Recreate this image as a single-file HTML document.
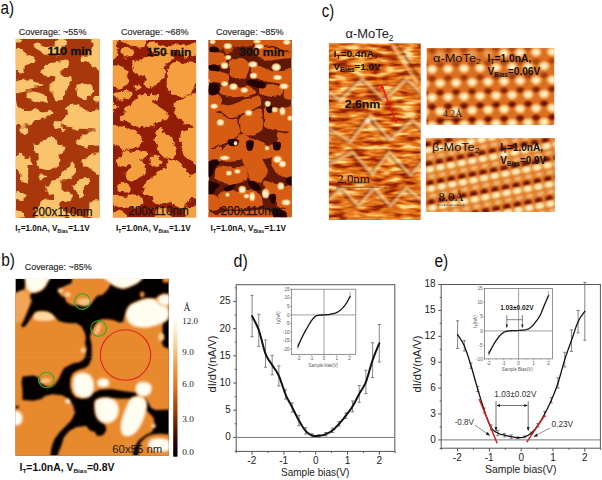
<!DOCTYPE html>
<html><head><meta charset="utf-8"><style>
html,body{margin:0;padding:0;background:#fff;}
body{width:602px;height:480px;overflow:hidden;}
svg{display:block;}
</style></head><body>
<svg width="602" height="480" viewBox="0 0 602 480">
<rect width="602" height="480" fill="#fff"/>
<defs><filter id="bl1" x="-5%" y="-5%" width="110%" height="110%"><feGaussianBlur stdDeviation="0.7"/></filter><filter id="dend" x="-5%" y="-5%" width="110%" height="110%" color-interpolation-filters="sRGB"><feTurbulence type="fractalNoise" baseFrequency="0.17" numOctaves="3" seed="4" result="t"/><feDisplacementMap in="SourceGraphic" in2="t" scale="6.5" xChannelSelector="R" yChannelSelector="G" result="d"/><feGaussianBlur in="d" stdDeviation="0.75"/></filter><filter id="dend1" x="-5%" y="-5%" width="110%" height="110%" color-interpolation-filters="sRGB"><feTurbulence type="fractalNoise" baseFrequency="0.17" numOctaves="3" seed="4" result="t"/><feDisplacementMap in="SourceGraphic" in2="t" scale="6.5" xChannelSelector="R" yChannelSelector="G" result="d"/><feMorphology in="d" operator="erode" radius="0.6" result="e"/><feGaussianBlur in="e" stdDeviation="0.7"/></filter><filter id="dend3" x="-5%" y="-5%" width="110%" height="110%" color-interpolation-filters="sRGB"><feTurbulence type="fractalNoise" baseFrequency="0.12" numOctaves="2" seed="9" result="t"/><feDisplacementMap in="SourceGraphic" in2="t" scale="3.5" xChannelSelector="R" yChannelSelector="G" result="d"/><feGaussianBlur in="d" stdDeviation="0.6"/></filter></defs>
<clipPath id="c1"><rect x="15.6" y="38.8" width="84" height="179.2"/></clipPath>
<g clip-path="url(#c1)"><rect x="15.6" y="38.8" width="84" height="179.2" fill="#A8380C"/>
<g filter="url(#dend1)">
<path d="M15.0 38.0 C16.4 37.2 22.2 37.2 23.4 38.0 C24.7 38.8 23.6 41.8 22.5 42.7 C21.4 43.6 18.1 43.6 16.9 43.6 C15.6 43.6 15.3 43.6 15.0 42.7 C14.7 41.8 13.6 38.8 15.0 38.0Z" fill="#FAC46C" />
<path d="M32.8 46.4 C32.5 45.5 32.3 44.2 33.8 43.6 C35.2 43.0 39.1 42.4 41.2 42.7 C43.4 43.0 45.0 45.0 46.9 45.5 C48.8 46.0 50.2 45.5 52.5 45.5 C54.8 45.5 59.5 43.6 60.9 45.5 C62.3 47.4 62.3 54.9 60.9 56.8 C59.5 58.6 55.2 56.9 52.5 56.8 C49.8 56.6 47.2 56.4 45.0 55.8 C42.8 55.2 40.9 54.1 39.4 53.0 C37.8 51.9 36.7 50.3 35.6 49.2 C34.5 48.2 33.1 47.4 32.8 46.4Z" fill="#FAC46C" />
<path d="M14.1 49.2 C15.2 45.5 18.8 47.1 20.6 47.4 C22.5 47.7 24.1 49.9 25.3 51.1 C26.6 52.4 26.7 54.1 28.1 54.9 C29.5 55.7 32.3 54.9 33.8 55.8 C35.2 56.8 36.4 59.1 36.6 60.5 C36.7 61.9 35.8 63.6 34.7 64.2 C33.6 64.9 31.4 63.6 30.0 64.2 C28.6 64.9 27.2 66.6 26.2 68.0 C25.3 69.4 25.3 71.6 24.4 72.7 C23.4 73.8 21.9 74.7 20.6 74.6 C19.4 74.4 18.0 72.5 16.9 71.8 C15.8 71.0 14.5 73.6 14.1 69.9 C13.6 66.1 13.0 53.0 14.1 49.2Z" fill="#FAC46C" />
<path d="M39.4 69.9 C40.3 68.3 43.1 65.7 45.0 64.2 C46.9 62.8 48.8 62.1 50.6 61.4 C52.5 60.8 54.5 60.3 56.2 60.5 C58.0 60.7 60.2 59.9 60.9 62.4 C61.7 64.9 62.0 72.8 60.9 75.5 C59.8 78.2 56.4 78.0 54.4 78.3 C52.3 78.6 50.6 77.8 48.8 77.4 C46.9 76.9 44.7 76.1 43.1 75.5 C41.6 74.9 40.0 74.6 39.4 73.6 C38.8 72.7 38.4 71.4 39.4 69.9Z" fill="#FAC46C" />
<path d="M14.1 81.1 C15.2 78.6 18.6 78.9 20.6 78.3 C22.7 77.7 24.4 77.4 26.2 77.4 C28.1 77.4 30.0 77.7 31.9 78.3 C33.8 78.9 35.6 80.3 37.5 81.1 C39.4 81.9 42.3 82.1 43.1 83.0 C43.9 83.9 43.4 85.8 42.2 86.8 C40.9 87.7 37.7 88.0 35.6 88.6 C33.6 89.2 31.9 89.9 30.0 90.5 C28.1 91.1 25.9 91.6 24.4 92.4 C22.8 93.2 21.9 94.7 20.6 95.2 C19.4 95.7 18.0 95.5 16.9 95.2 C15.8 94.9 14.5 95.7 14.1 93.3 C13.6 91.0 13.0 83.6 14.1 81.1Z" fill="#FAC46C" />
<path d="M48.8 83.0 C49.7 81.8 52.3 80.8 54.4 80.2 C56.4 79.6 59.8 76.6 60.9 79.2 C62.0 81.9 62.0 93.3 60.9 96.1 C59.8 98.9 56.1 96.8 54.4 96.1 C52.7 95.5 51.6 93.8 50.6 92.4 C49.7 91.0 49.1 89.2 48.8 87.7 C48.4 86.1 47.8 84.2 48.8 83.0Z" fill="#FAC46C" />
<path d="M26.2 92.4 C27.5 91.3 31.6 90.7 33.8 90.5 C35.9 90.3 37.5 90.8 39.4 91.4 C41.2 92.1 43.4 93.2 45.0 94.2 C46.6 95.3 48.3 96.6 48.8 98.0 C49.2 99.4 48.8 101.8 47.8 102.7 C46.9 103.6 45.2 103.6 43.1 103.6 C41.1 103.6 37.8 103.2 35.6 102.7 C33.4 102.2 31.6 101.8 30.0 100.8 C28.4 99.9 26.9 98.5 26.2 97.1 C25.6 95.7 25.0 93.5 26.2 92.4Z" fill="#FAC46C" />
<path d="M14.1 101.8 C14.8 98.3 17.3 102.7 18.8 103.6 C20.2 104.6 20.9 106.4 22.5 107.4 C24.1 108.3 26.2 109.1 28.1 109.2 C30.0 109.4 31.9 108.3 33.8 108.3 C35.6 108.3 37.5 108.9 39.4 109.2 C41.2 109.6 43.1 110.5 45.0 110.2 C46.9 109.9 49.1 107.2 50.6 107.4 C52.2 107.5 54.1 109.6 54.4 111.1 C54.7 112.7 53.8 115.5 52.5 116.8 C51.2 118.0 48.8 118.0 46.9 118.6 C45.0 119.2 43.1 119.9 41.2 120.5 C39.4 121.1 37.5 121.8 35.6 122.4 C33.8 123.0 31.9 123.6 30.0 124.2 C28.1 124.9 26.2 125.8 24.4 126.1 C22.5 126.4 20.5 126.4 18.8 126.1 C17.0 125.8 14.8 128.3 14.1 124.2 C13.3 120.2 13.3 105.2 14.1 101.8Z" fill="#FAC46C" />
<path d="M52.5 122.4 C53.6 121.0 59.5 119.4 60.9 120.5 C62.3 121.6 62.0 127.5 60.9 128.9 C59.8 130.3 55.8 130.0 54.4 128.9 C53.0 127.8 51.4 123.8 52.5 122.4Z" fill="#FAC46C" />
<path d="M54.1 38.0 C56.1 36.6 63.6 37.4 66.2 38.0 C68.9 38.6 69.7 40.5 70.0 41.8 C70.3 43.0 69.4 44.6 68.1 45.5 C66.9 46.4 64.8 47.2 62.5 47.4 C60.2 47.5 55.5 48.0 54.1 46.4 C52.7 44.9 52.0 39.4 54.1 38.0Z" fill="#FAC46C" />
<path d="M90.6 37.1 C92.0 35.7 99.2 31.6 100.9 37.1 C102.7 42.5 102.0 64.6 100.9 69.9 C99.8 75.2 96.1 69.6 94.4 68.9 C92.7 68.3 91.9 67.2 90.6 66.1 C89.4 65.0 88.4 62.8 86.9 62.4 C85.3 61.9 82.8 63.6 81.2 63.3 C79.7 63.0 77.8 61.6 77.5 60.5 C77.2 59.4 78.1 57.7 79.4 56.8 C80.6 55.8 83.4 56.1 85.0 54.9 C86.6 53.6 87.5 50.8 88.8 49.2 C90.0 47.7 92.2 47.5 92.5 45.5 C92.8 43.5 89.2 38.5 90.6 37.1Z" fill="#FAC46C" />
<path d="M54.1 60.5 C55.2 57.8 58.6 59.9 60.6 59.6 C62.7 59.2 64.7 58.5 66.2 58.6 C67.8 58.8 69.5 59.2 70.0 60.5 C70.5 61.8 70.0 64.6 69.1 66.1 C68.1 67.7 65.8 68.6 64.4 69.9 C63.0 71.1 62.3 72.7 60.6 73.6 C58.9 74.6 55.2 77.7 54.1 75.5 C53.0 73.3 53.0 63.2 54.1 60.5Z" fill="#FAC46C" />
<path d="M54.1 79.2 C55.2 75.0 58.6 76.3 60.6 75.5 C62.7 74.7 64.4 74.4 66.2 74.6 C68.1 74.7 70.6 75.3 71.9 76.4 C73.1 77.5 74.1 79.4 73.8 81.1 C73.4 82.8 70.9 84.9 70.0 86.8 C69.1 88.6 69.1 90.5 68.1 92.4 C67.2 94.2 65.6 96.6 64.4 98.0 C63.1 99.4 62.3 100.3 60.6 100.8 C58.9 101.3 55.2 104.4 54.1 100.8 C53.0 97.2 53.0 83.5 54.1 79.2Z" fill="#FAC46C" />
<path d="M75.6 84.9 C76.6 83.2 79.4 82.4 81.2 82.1 C83.1 81.8 85.0 82.4 86.9 83.0 C88.8 83.6 91.2 84.6 92.5 85.8 C93.8 87.1 94.4 88.8 94.4 90.5 C94.4 92.2 93.8 94.6 92.5 96.1 C91.2 97.7 88.8 99.1 86.9 99.9 C85.0 100.7 82.8 101.1 81.2 100.8 C79.7 100.5 78.4 99.4 77.5 98.0 C76.6 96.6 75.9 94.6 75.6 92.4 C75.3 90.2 74.7 86.6 75.6 84.9Z" fill="#FAC46C" />
<path d="M92.5 98.0 C93.6 96.4 99.5 93.3 100.9 94.2 C102.3 95.2 102.0 102.1 100.9 103.6 C99.8 105.2 95.8 104.6 94.4 103.6 C93.0 102.7 91.4 99.6 92.5 98.0Z" fill="#FAC46C" />
<path d="M66.2 105.5 C67.8 104.6 71.2 103.6 73.8 103.6 C76.2 103.6 79.1 104.6 81.2 105.5 C83.4 106.4 85.0 108.5 86.9 109.2 C88.8 110.0 90.2 109.9 92.5 110.2 C94.8 110.5 99.5 108.0 100.9 111.1 C102.3 114.2 105.5 126.0 100.9 128.9 C96.4 131.9 79.5 129.4 73.8 128.9 C68.0 128.5 68.4 127.2 66.2 126.1 C64.1 125.0 61.2 123.9 60.6 122.4 C60.0 120.8 61.6 118.3 62.5 116.8 C63.4 115.2 65.9 114.2 66.2 113.0 C66.6 111.8 64.4 110.5 64.4 109.2 C64.4 108.0 64.7 106.4 66.2 105.5Z" fill="#FAC46C" />
<path d="M18.8 127.1 C20.5 125.8 28.3 126.0 30.0 127.1 C31.7 128.2 30.0 132.1 29.1 133.6 C28.1 135.2 25.9 136.3 24.4 136.4 C22.8 136.6 20.6 136.1 19.7 134.6 C18.8 133.0 17.0 128.3 18.8 127.1Z" fill="#FAC46C" />
<path d="M31.9 143.0 C33.1 142.1 37.2 142.1 39.4 141.1 C41.6 140.2 43.1 138.6 45.0 137.4 C46.9 136.1 49.1 133.3 50.6 133.6 C52.2 133.9 52.7 137.7 54.4 139.2 C56.1 140.8 59.8 138.6 60.9 143.0 C62.0 147.4 62.0 161.1 60.9 165.5 C59.8 169.9 56.4 168.3 54.4 169.2 C52.3 170.2 50.6 171.0 48.8 171.1 C46.9 171.3 45.0 170.5 43.1 170.2 C41.2 169.9 38.8 170.3 37.5 169.2 C36.2 168.2 35.8 165.5 35.6 163.6 C35.5 161.8 37.0 160.2 36.6 158.0 C36.1 155.8 33.6 152.4 32.8 150.5 C32.0 148.6 32.0 148.0 31.9 146.8 C31.7 145.5 30.6 143.9 31.9 143.0Z" fill="#FAC46C" />
<path d="M18.8 152.4 C20.2 151.0 21.2 150.8 22.5 151.4 C23.8 152.1 24.7 155.0 26.2 156.1 C27.8 157.2 30.8 156.8 31.9 158.0 C33.0 159.2 33.1 162.1 32.8 163.6 C32.5 165.2 30.6 165.8 30.0 167.4 C29.4 168.9 29.1 171.1 29.1 173.0 C29.1 174.9 30.2 176.8 30.0 178.6 C29.8 180.5 29.4 183.3 28.1 184.2 C26.9 185.2 23.8 185.2 22.5 184.2 C21.2 183.3 21.2 180.5 20.6 178.6 C20.0 176.8 19.8 174.6 18.8 173.0 C17.7 171.4 14.8 171.4 14.1 169.2 C13.3 167.1 13.3 162.7 14.1 159.9 C14.8 157.1 17.3 153.8 18.8 152.4Z" fill="#FAC46C" />
<path d="M36.6 174.9 C37.5 173.6 41.2 173.0 43.1 173.0 C45.0 173.0 47.2 173.9 47.8 174.9 C48.4 175.8 48.0 177.5 46.9 178.6 C45.8 179.7 42.8 181.1 41.2 181.4 C39.7 181.8 38.3 181.6 37.5 180.5 C36.7 179.4 35.6 176.1 36.6 174.9Z" fill="#FAC46C" />
<path d="M45.0 184.2 C45.9 182.7 48.8 181.4 50.6 180.5 C52.5 179.6 54.5 178.8 56.2 178.6 C58.0 178.5 60.2 177.1 60.9 179.6 C61.7 182.1 62.0 191.0 60.9 193.6 C59.8 196.3 56.4 195.3 54.4 195.5 C52.3 195.7 50.3 195.5 48.8 194.6 C47.2 193.6 45.6 191.6 45.0 189.9 C44.4 188.2 44.1 185.8 45.0 184.2Z" fill="#FAC46C" />
<path d="M14.1 191.8 C15.2 190.0 18.6 189.9 20.6 189.9 C22.7 189.9 25.0 190.8 26.2 191.8 C27.5 192.7 28.1 194.2 28.1 195.5 C28.1 196.8 27.5 198.3 26.2 199.2 C25.0 200.2 22.7 201.0 20.6 201.1 C18.6 201.3 15.2 201.8 14.1 200.2 C13.0 198.6 13.0 193.5 14.1 191.8Z" fill="#FAC46C" />
<path d="M41.2 199.2 C43.1 197.7 46.2 197.4 48.8 197.4 C51.2 197.4 54.2 198.3 56.2 199.2 C58.3 200.2 60.2 199.7 60.9 203.0 C61.7 206.3 64.8 216.3 60.9 218.9 C57.0 221.6 42.0 220.0 37.5 218.9 C33.0 217.8 33.8 214.4 33.8 212.4 C33.8 210.3 36.2 208.9 37.5 206.8 C38.8 204.6 39.4 200.8 41.2 199.2Z" fill="#FAC46C" />
<path d="M14.1 208.6 C15.5 207.2 20.5 209.2 22.5 210.5 C24.5 211.8 25.6 214.7 26.2 216.1 C26.9 217.5 28.3 218.5 26.2 218.9 C24.2 219.4 16.1 220.7 14.1 218.9 C12.0 217.2 12.7 210.0 14.1 208.6Z" fill="#FAC46C" />
<path d="M58.8 127.1 C60.0 126.0 66.9 126.1 68.1 127.1 C69.4 128.0 67.5 131.6 66.2 132.7 C65.0 133.8 61.9 134.6 60.6 133.6 C59.4 132.7 57.5 128.2 58.8 127.1Z" fill="#FAC46C" />
<path d="M71.9 127.1 C73.1 126.3 80.0 126.4 81.2 127.1 C82.5 127.7 80.6 130.0 79.4 130.8 C78.1 131.6 75.0 132.4 73.8 131.8 C72.5 131.1 70.6 127.8 71.9 127.1Z" fill="#FAC46C" />
<path d="M75.6 139.2 C76.2 137.2 79.1 134.9 81.2 133.6 C83.4 132.4 86.2 132.4 88.8 131.8 C91.2 131.1 94.2 130.7 96.2 129.9 C98.3 129.1 100.2 124.6 100.9 127.1 C101.7 129.6 102.0 141.6 100.9 144.9 C99.8 148.2 96.4 146.1 94.4 146.8 C92.3 147.4 90.6 148.5 88.8 148.6 C86.9 148.8 85.0 148.2 83.1 147.7 C81.2 147.2 78.8 147.2 77.5 145.8 C76.2 144.4 75.0 141.3 75.6 139.2Z" fill="#FAC46C" />
<path d="M54.1 144.9 C55.2 141.4 58.8 142.7 60.6 143.0 C62.5 143.3 64.7 145.2 65.3 146.8 C65.9 148.3 65.2 151.1 64.4 152.4 C63.6 153.6 61.6 153.0 60.6 154.2 C59.7 155.5 59.8 158.3 58.8 159.9 C57.7 161.4 54.8 166.1 54.1 163.6 C53.3 161.1 53.0 148.3 54.1 144.9Z" fill="#FAC46C" />
<path d="M79.4 159.9 C80.0 158.3 84.7 157.4 86.9 156.1 C89.1 154.9 90.2 153.0 92.5 152.4 C94.8 151.8 99.5 148.6 100.9 152.4 C102.3 156.1 102.0 171.4 100.9 174.9 C99.8 178.3 96.4 173.9 94.4 173.0 C92.3 172.1 90.6 170.5 88.8 169.2 C86.9 168.0 84.7 167.1 83.1 165.5 C81.6 163.9 78.8 161.4 79.4 159.9Z" fill="#FAC46C" />
<path d="M58.8 174.9 C59.7 173.3 62.8 171.1 64.4 169.2 C65.9 167.4 66.6 165.2 68.1 163.6 C69.7 162.1 72.5 159.9 73.8 159.9 C75.0 159.9 75.0 161.8 75.6 163.6 C76.2 165.5 77.8 168.9 77.5 171.1 C77.2 173.3 75.3 175.2 73.8 176.8 C72.2 178.3 70.0 179.7 68.1 180.5 C66.2 181.3 64.1 181.8 62.5 181.4 C60.9 181.1 59.4 179.7 58.8 178.6 C58.1 177.5 57.8 176.4 58.8 174.9Z" fill="#FAC46C" />
<path d="M71.9 184.2 C72.8 183.0 75.3 181.8 77.5 180.5 C79.7 179.2 82.8 177.1 85.0 176.8 C87.2 176.4 89.7 177.4 90.6 178.6 C91.6 179.9 91.6 182.7 90.6 184.2 C89.7 185.8 85.9 186.1 85.0 188.0 C84.1 189.9 85.6 193.6 85.0 195.5 C84.4 197.4 82.5 198.9 81.2 199.2 C80.0 199.6 78.4 198.6 77.5 197.4 C76.6 196.1 76.6 193.3 75.6 191.8 C74.7 190.2 72.5 189.2 71.9 188.0 C71.2 186.8 70.9 185.5 71.9 184.2Z" fill="#FAC46C" />
<path d="M54.1 186.1 C55.2 183.6 58.6 187.4 60.6 188.0 C62.7 188.6 64.4 189.2 66.2 189.9 C68.1 190.5 70.6 190.8 71.9 191.8 C73.1 192.7 74.1 193.9 73.8 195.5 C73.4 197.1 71.9 199.9 70.0 201.1 C68.1 202.4 65.2 202.7 62.5 203.0 C59.8 203.3 55.5 205.8 54.1 203.0 C52.7 200.2 53.0 188.6 54.1 186.1Z" fill="#FAC46C" />
<path d="M88.8 201.1 C90.0 199.2 92.3 199.2 94.4 199.2 C96.4 199.2 99.8 197.8 100.9 201.1 C102.0 204.4 103.0 216.0 100.9 218.9 C98.9 221.9 91.1 220.3 88.8 218.9 C86.4 217.5 86.9 213.5 86.9 210.5 C86.9 207.5 87.5 203.0 88.8 201.1Z" fill="#FAC46C" />
<path d="M54.1 210.5 C56.1 209.1 63.0 209.9 66.2 210.5 C69.5 211.1 70.0 213.3 73.8 214.2 C77.5 215.2 86.2 215.3 88.8 216.1 C91.2 216.9 94.5 218.5 88.8 218.9 C83.0 219.4 59.8 220.3 54.1 218.9 C48.3 217.5 52.0 211.9 54.1 210.5Z" fill="#FAC46C" />
</g></g>
<clipPath id="c2"><rect x="112.8" y="39.9" width="83.4" height="177.5"/></clipPath>
<g clip-path="url(#c2)"><rect x="112.8" y="39.9" width="83.4" height="177.5" fill="#921C04"/>
<g filter="url(#dend)">
<path d="M111.3 38.3 C112.4 34.9 116.5 37.5 117.6 38.3 C118.8 39.1 118.6 41.7 118.4 43.2 C118.1 44.8 116.4 45.8 116.2 47.5 C116.1 49.1 117.9 51.5 117.6 53.1 C117.4 54.8 115.9 56.4 114.8 57.4 C113.8 58.3 111.9 61.9 111.3 58.8 C110.7 55.6 110.2 41.7 111.3 38.3Z" fill="#F4A040" />
<path d="M123.3 38.3 C126.8 37.7 140.7 37.5 144.5 38.3 C148.2 39.1 146.1 41.8 145.9 43.2 C145.7 44.6 144.2 46.1 143.1 46.8 C141.9 47.5 140.2 47.7 138.8 47.5 C137.4 47.2 136.0 45.8 134.6 45.4 C133.2 44.9 131.8 45.0 130.4 44.6 C128.9 44.3 127.3 43.7 126.1 43.2 C124.9 42.8 123.8 42.6 123.3 41.8 C122.8 41.0 119.8 38.9 123.3 38.3Z" fill="#F4A040" />
<path d="M121.9 48.9 C122.7 47.6 125.6 47.2 127.5 47.5 C129.4 47.7 132.5 48.9 133.2 50.3 C133.9 51.7 132.9 54.8 131.8 55.9 C130.6 57.1 127.6 57.5 126.1 57.4 C124.6 57.2 123.3 56.6 122.6 55.2 C121.9 53.8 121.1 50.2 121.9 48.9Z" fill="#F4A040" />
<path d="M133.2 61.6 C134.1 60.4 137.2 60.9 138.8 60.2 C140.5 59.5 141.4 58.1 143.1 57.4 C144.7 56.6 146.8 56.1 148.7 55.9 C150.6 55.8 152.7 56.9 154.4 56.6 C156.0 56.4 156.9 55.0 158.6 54.5 C160.2 54.1 162.1 53.8 164.2 53.8 C166.4 53.8 169.7 53.9 171.3 54.5 C172.9 55.1 174.4 56.4 174.1 57.4 C173.9 58.3 171.3 59.2 169.9 60.2 C168.5 61.1 166.6 61.8 165.7 63.0 C164.7 64.2 164.2 65.8 164.2 67.2 C164.2 68.7 165.7 69.8 165.7 71.5 C165.7 73.1 164.9 75.5 164.2 77.1 C163.5 78.8 162.6 80.4 161.4 81.4 C160.2 82.3 158.4 82.1 157.2 82.8 C156.0 83.5 155.5 84.7 154.4 85.6 C153.2 86.5 151.5 88.2 150.1 88.4 C148.7 88.7 146.8 87.9 145.9 87.0 C144.9 86.1 144.5 84.2 144.5 82.8 C144.5 81.4 146.4 79.7 145.9 78.5 C145.4 77.4 143.1 76.4 141.7 75.7 C140.2 75.0 138.6 75.0 137.4 74.3 C136.2 73.6 135.3 72.7 134.6 71.5 C133.9 70.3 133.4 68.9 133.2 67.2 C132.9 65.6 132.2 62.8 133.2 61.6Z" fill="#F4A040" />
<path d="M148.7 43.2 C149.8 42.4 152.7 42.3 154.4 42.5 C156.0 42.8 156.2 44.1 158.6 44.6 C160.9 45.2 165.9 45.6 168.5 46.1 C171.1 46.5 173.4 46.3 174.1 47.5 C174.8 48.6 174.1 52.2 172.7 53.1 C171.3 54.1 168.2 53.0 165.7 53.1 C163.1 53.2 159.5 54.1 157.2 53.8 C154.8 53.6 153.1 52.8 151.5 51.7 C150.0 50.6 148.5 48.9 148.0 47.5 C147.5 46.1 147.7 44.1 148.7 43.2Z" fill="#F4A040" />
<path d="M172.7 46.1 C173.2 44.9 176.2 43.5 178.4 43.2 C180.5 43.0 183.3 44.4 185.4 44.6 C187.5 44.9 189.0 44.9 191.1 44.6 C193.2 44.4 197.0 41.4 198.1 43.2 C199.3 45.1 199.3 53.8 198.1 55.9 C197.0 58.1 193.2 55.7 191.1 55.9 C189.0 56.2 187.3 57.6 185.4 57.4 C183.5 57.1 181.4 55.7 179.8 54.5 C178.1 53.4 176.7 51.7 175.5 50.3 C174.4 48.9 172.2 47.2 172.7 46.1Z" fill="#F4A040" />
<path d="M168.5 67.2 C169.3 65.8 171.1 63.9 172.7 63.0 C174.4 62.1 176.5 61.6 178.4 61.6 C180.2 61.6 182.1 63.0 184.0 63.0 C185.9 63.0 187.8 61.6 189.7 61.6 C191.5 61.6 193.9 62.5 195.3 63.0 C196.7 63.5 197.7 61.4 198.1 64.4 C198.6 67.5 198.8 77.6 198.1 81.4 C197.4 85.1 195.1 85.1 193.9 87.0 C192.7 88.9 192.5 91.2 191.1 92.7 C189.7 94.1 187.3 94.8 185.4 95.5 C183.5 96.2 181.7 96.9 179.8 96.9 C177.9 96.9 175.8 96.2 174.1 95.5 C172.5 94.8 171.1 94.1 169.9 92.7 C168.7 91.2 167.8 88.9 167.1 87.0 C166.4 85.1 165.7 83.2 165.7 81.4 C165.7 79.5 166.7 77.4 167.1 75.7 C167.4 74.1 167.5 72.9 167.8 71.5 C168.0 70.1 167.7 68.7 168.5 67.2Z" fill="#F4A040" />
<path d="M111.3 67.2 C112.4 63.9 115.6 65.8 117.6 65.8 C119.6 65.8 121.6 66.3 123.3 67.2 C124.9 68.2 127.1 70.1 127.5 71.5 C128.0 72.9 125.9 74.3 126.1 75.7 C126.4 77.1 128.7 78.5 128.9 79.9 C129.2 81.4 128.5 83.0 127.5 84.2 C126.6 85.4 124.7 86.3 123.3 87.0 C121.9 87.7 120.5 88.4 119.1 88.4 C117.6 88.4 116.1 87.5 114.8 87.0 C113.5 86.5 111.9 88.9 111.3 85.6 C110.7 82.3 110.2 70.5 111.3 67.2Z" fill="#F4A040" />
<path d="M134.6 85.6 C135.1 84.7 137.7 84.1 138.8 84.2 C140.0 84.3 141.4 85.5 141.7 86.3 C141.9 87.1 141.2 88.6 140.2 89.1 C139.3 89.7 136.9 90.1 136.0 89.5 C135.1 89.0 134.1 86.5 134.6 85.6Z" fill="#F4A040" />
<path d="M114.8 91.8 C117.2 90.6 127.9 90.6 130.4 91.8 C132.8 92.9 131.1 97.5 129.6 98.8 C128.2 100.1 124.1 99.5 121.9 99.5 C119.6 99.5 117.4 100.1 116.2 98.8 C115.1 97.5 112.5 92.9 114.8 91.8Z" fill="#F4A040" />
<path d="M111.3 101.6 C112.1 100.5 115.3 103.3 116.2 104.5 C117.2 105.6 117.8 107.5 116.9 108.7 C116.1 109.9 112.2 112.7 111.3 111.5 C110.4 110.4 110.5 102.8 111.3 101.6Z" fill="#F4A040" />
<path d="M119.1 117.2 C119.5 116.0 122.4 114.4 123.3 112.9 C124.2 111.5 123.5 110.1 124.7 108.7 C125.9 107.3 128.9 105.9 130.4 104.5 C131.8 103.1 131.8 101.2 133.2 100.2 C134.6 99.3 137.7 99.8 138.8 98.8 C140.0 97.9 136.9 95.3 140.2 94.6 C143.5 93.9 155.8 93.6 158.6 94.6 C161.4 95.5 158.1 99.1 157.2 100.2 C156.2 101.4 152.9 100.7 152.9 101.6 C152.9 102.6 155.5 104.5 157.2 105.9 C158.8 107.3 160.9 108.7 162.8 110.1 C164.7 111.5 167.8 112.9 168.5 114.4 C169.2 115.8 168.0 117.7 167.1 118.6 C166.1 119.5 164.0 119.5 162.8 120.0 C161.7 120.5 161.4 120.9 160.0 121.4 C158.6 121.9 155.5 121.9 154.4 122.8 C153.2 123.8 154.4 126.2 152.9 127.1 C151.5 127.9 147.8 128.0 145.9 127.8 C144.0 127.5 142.8 125.7 141.7 125.7 C140.5 125.7 140.0 127.8 138.8 127.8 C137.7 127.8 136.0 126.5 134.6 125.7 C133.2 124.8 132.0 123.5 130.4 122.8 C128.7 122.1 126.4 121.9 124.7 121.4 C123.1 120.9 121.4 120.7 120.5 120.0 C119.5 119.3 118.6 118.4 119.1 117.2Z" fill="#F4A040" />
<path d="M172.7 104.5 C173.4 103.1 176.7 102.6 178.4 101.6 C180.0 100.7 181.0 99.9 182.6 98.8 C184.2 97.8 185.7 95.9 188.2 95.3 C190.8 94.7 196.5 90.5 198.1 95.3 C199.8 100.1 199.1 119.2 198.1 124.2 C197.2 129.3 194.1 125.7 192.5 125.7 C190.8 125.7 189.9 124.9 188.2 124.2 C186.6 123.5 184.2 122.4 182.6 121.4 C181.0 120.5 179.5 119.8 178.4 118.6 C177.2 117.4 176.2 115.8 175.5 114.4 C174.8 112.9 174.6 111.8 174.1 110.1 C173.7 108.5 172.0 105.9 172.7 104.5Z" fill="#F4A040" />
<path d="M111.3 128.5 C112.4 125.4 115.4 126.0 117.6 125.7 C119.9 125.3 122.4 125.7 124.7 126.4 C127.1 127.1 129.6 128.8 131.8 129.9 C133.9 130.9 135.8 131.5 137.4 132.7 C139.1 133.9 140.7 135.5 141.7 136.9 C142.6 138.4 143.5 139.8 143.1 141.2 C142.6 142.6 140.5 144.2 138.8 145.4 C137.2 146.6 135.1 147.4 133.2 148.2 C131.3 149.1 129.4 150.1 127.5 150.4 C125.6 150.6 123.3 150.2 121.9 149.7 C120.5 149.1 120.2 147.5 119.1 146.8 C117.9 146.1 116.1 145.9 114.8 145.4 C113.5 144.9 111.9 146.8 111.3 144.0 C110.7 141.2 110.2 131.5 111.3 128.5Z" fill="#F4A040" />
<path d="M154.4 131.3 C154.8 130.2 157.2 129.4 158.6 129.2 C160.0 128.9 161.7 129.1 162.8 129.9 C164.0 130.7 164.5 132.9 165.7 134.1 C166.8 135.3 168.7 135.8 169.9 136.9 C171.1 138.1 171.8 139.5 172.7 141.2 C173.7 142.8 175.1 144.9 175.5 146.8 C176.0 148.7 176.2 150.6 175.5 152.5 C174.8 154.4 173.2 157.2 171.3 158.1 C169.4 159.1 166.1 159.1 164.2 158.1 C162.4 157.2 160.9 154.1 160.0 152.5 C159.1 150.8 159.3 149.7 158.6 148.2 C157.9 146.8 156.5 145.7 155.8 144.0 C155.1 142.4 154.4 139.8 154.4 138.4 C154.4 136.9 155.8 136.7 155.8 135.5 C155.8 134.4 153.9 132.4 154.4 131.3Z" fill="#F4A040" />
<path d="M179.8 132.7 C180.7 131.3 183.5 130.6 185.4 129.9 C187.3 129.2 189.0 128.7 191.1 128.5 C193.2 128.2 197.0 123.5 198.1 128.5 C199.3 133.4 200.2 153.2 198.1 158.1 C196.0 163.1 188.0 159.3 185.4 158.1 C182.8 156.9 183.3 153.2 182.6 151.1 C181.9 148.9 181.7 147.5 181.2 145.4 C180.7 143.3 180.0 140.5 179.8 138.4 C179.5 136.2 178.8 134.1 179.8 132.7Z" fill="#F4A040" />
<path d="M116.2 160.1 C117.2 159.1 120.7 158.6 121.9 157.2 C123.1 155.8 119.1 152.5 123.3 151.6 C127.5 150.6 143.5 150.6 147.3 151.6 C151.1 152.5 147.1 155.8 145.9 157.2 C144.7 158.6 140.5 158.9 140.2 160.1 C140.0 161.2 143.5 162.9 144.5 164.3 C145.4 165.7 145.9 166.9 145.9 168.5 C145.9 170.2 145.4 172.8 144.5 174.2 C143.5 175.6 141.9 176.1 140.2 177.0 C138.6 177.9 136.5 179.2 134.6 179.8 C132.7 180.4 130.4 180.8 128.9 180.5 C127.5 180.3 126.8 179.5 126.1 178.4 C125.4 177.4 124.5 175.6 124.7 174.2 C124.9 172.8 126.4 171.1 127.5 169.9 C128.7 168.8 131.5 168.1 131.8 167.1 C132.0 166.2 130.4 164.4 128.9 164.3 C127.5 164.2 124.9 166.3 123.3 166.4 C121.6 166.5 120.2 165.6 119.1 165.0 C117.9 164.4 116.7 163.7 116.2 162.9 C115.8 162.1 115.3 161.0 116.2 160.1Z" fill="#F4A040" />
<path d="M148.7 157.2 C149.4 155.8 152.5 155.6 154.4 155.8 C156.2 156.1 158.8 157.5 160.0 158.6 C161.2 159.8 161.7 161.7 161.4 162.9 C161.2 164.1 159.8 165.0 158.6 165.7 C157.4 166.4 155.8 167.4 154.4 167.1 C152.9 166.9 151.1 165.9 150.1 164.3 C149.2 162.6 148.0 158.6 148.7 157.2Z" fill="#F4A040" />
<path d="M162.8 151.6 C164.0 150.9 169.7 150.9 171.3 151.6 C172.9 152.3 173.4 154.9 172.7 155.8 C172.0 156.8 168.5 157.2 167.1 157.2 C165.7 157.2 164.9 156.8 164.2 155.8 C163.5 154.9 161.7 152.3 162.8 151.6Z" fill="#F4A040" />
<path d="M184.0 151.6 C185.9 150.4 195.8 149.5 198.1 151.6 C200.5 153.7 199.3 162.6 198.1 164.3 C197.0 165.9 193.0 162.4 191.1 161.5 C189.2 160.5 188.0 160.3 186.8 158.6 C185.7 157.0 182.1 152.8 184.0 151.6Z" fill="#F4A040" />
<path d="M143.1 184.1 C143.5 182.7 146.8 181.2 148.7 179.8 C150.6 178.4 152.7 177.0 154.4 175.6 C156.0 174.2 156.7 172.8 158.6 171.4 C160.5 169.9 164.2 168.8 165.7 167.1 C167.1 165.5 165.9 162.6 167.1 161.5 C168.2 160.3 170.8 160.1 172.7 160.1 C174.6 160.1 176.7 160.5 178.4 161.5 C180.0 162.4 181.4 164.3 182.6 165.7 C183.8 167.1 184.5 168.5 185.4 169.9 C186.4 171.4 187.1 173.2 188.2 174.2 C189.4 175.1 190.8 175.6 192.5 175.6 C194.1 175.6 197.2 170.9 198.1 174.2 C199.1 177.5 199.3 191.6 198.1 195.4 C197.0 199.1 192.7 195.6 191.1 196.8 C189.4 197.9 189.2 200.8 188.2 202.4 C187.3 204.1 186.8 205.7 185.4 206.7 C184.0 207.6 181.7 208.3 179.8 208.1 C177.9 207.8 175.8 206.4 174.1 205.2 C172.5 204.1 171.3 201.2 169.9 201.0 C168.5 200.8 167.3 203.4 165.7 203.8 C164.0 204.3 161.9 204.3 160.0 203.8 C158.1 203.4 155.8 202.2 154.4 201.0 C152.9 199.8 152.9 197.7 151.5 196.8 C150.1 195.8 147.3 196.3 145.9 195.4 C144.5 194.4 143.1 192.3 143.1 191.1 C143.1 189.9 145.9 189.5 145.9 188.3 C145.9 187.1 142.6 185.5 143.1 184.1Z" fill="#F4A040" />
<path d="M117.6 184.1 C118.6 183.1 121.4 182.4 123.3 182.7 C125.2 182.9 127.9 184.3 128.9 185.5 C130.0 186.7 130.1 188.5 129.6 189.7 C129.2 190.9 127.6 192.3 126.1 192.5 C124.6 192.8 121.9 191.8 120.5 191.1 C119.1 190.4 118.1 189.5 117.6 188.3 C117.2 187.1 116.7 185.0 117.6 184.1Z" fill="#F4A040" />
<path d="M111.3 196.8 C112.4 195.4 115.2 195.5 117.6 195.4 C120.1 195.2 123.5 196.1 126.1 196.1 C128.7 196.1 130.8 195.2 133.2 195.4 C135.5 195.5 138.6 195.8 140.2 196.8 C141.9 197.7 143.1 199.6 143.1 201.0 C143.1 202.4 141.7 204.1 140.2 205.2 C138.8 206.4 136.7 207.5 134.6 208.1 C132.5 208.7 129.9 208.9 127.5 208.8 C125.2 208.7 122.4 207.9 120.5 207.4 C118.6 206.8 117.8 205.8 116.2 205.2 C114.7 204.7 112.1 205.2 111.3 203.8 C110.5 202.4 110.2 198.2 111.3 196.8Z" fill="#F4A040" />
<path d="M111.3 212.3 C112.8 210.9 118.0 210.7 120.5 210.9 C122.9 211.1 125.2 212.3 126.1 213.7 C127.1 215.1 128.6 218.4 126.1 219.4 C123.6 220.3 113.8 220.5 111.3 219.4 C108.8 218.2 109.8 213.7 111.3 212.3Z" fill="#F4A040" />
<path d="M185.4 209.5 C186.4 207.4 189.0 206.9 191.1 206.7 C193.2 206.4 197.0 205.9 198.1 208.1 C199.3 210.2 200.2 217.5 198.1 219.4 C196.0 221.2 187.5 221.0 185.4 219.4 C183.3 217.7 184.5 211.6 185.4 209.5Z" fill="#F4A040" />
<path d="M157.2 209.5 C158.4 207.6 160.9 207.8 162.8 208.1 C164.7 208.3 167.1 209.0 168.5 210.9 C169.9 212.8 173.4 218.0 171.3 219.4 C169.2 220.8 158.1 221.0 155.8 219.4 C153.4 217.7 156.0 211.4 157.2 209.5Z" fill="#F4A040" />
</g></g>
<clipPath id="c3"><rect x="208.5" y="40" width="83.2" height="177.2"/></clipPath>
<g clip-path="url(#c3)"><rect x="208.5" y="40" width="83.2" height="177.2" fill="#621804"/>
<g filter="url(#dend3)">
<path d="M205.6 37.6 C208.4 35.5 219.5 36.4 222.5 37.6 C225.6 38.8 224.2 42.5 223.9 44.6 C223.7 46.8 222.5 49.2 221.1 50.3 C219.7 51.4 217.4 50.9 215.5 51.0 C213.6 51.1 211.5 51.1 209.8 51.0 C208.2 50.9 206.3 52.5 205.6 50.3 C204.9 48.1 202.8 39.7 205.6 37.6Z" fill="#B4460C" />
<path d="M223.9 37.6 C229.4 36.4 250.2 36.4 255.0 37.6 C259.8 38.8 254.8 43.2 252.9 44.6 C251.0 46.1 246.7 45.6 243.7 46.1 C240.8 46.5 237.4 46.5 235.2 47.5 C233.1 48.4 232.4 50.5 231.0 51.7 C229.6 52.9 227.9 54.8 226.8 54.5 C225.6 54.3 224.6 51.9 223.9 50.3 C223.2 48.6 222.5 46.8 222.5 44.6 C222.5 42.5 218.5 38.8 223.9 37.6Z" fill="#B4460C" />
<path d="M256.4 37.6 C262.7 36.2 287.0 35.2 293.1 37.6 C299.2 39.9 294.8 49.6 293.1 51.7 C291.5 53.8 286.5 51.2 283.2 50.3 C280.0 49.4 276.7 46.9 273.4 46.1 C270.1 45.2 266.4 45.4 263.5 45.4 C260.5 45.4 256.9 47.4 255.7 46.1 C254.5 44.8 250.2 39.0 256.4 37.6Z" fill="#D65C14" />
<path d="M205.6 53.1 C207.2 51.1 212.6 52.4 215.5 52.4 C218.3 52.4 220.6 52.3 222.5 53.1 C224.4 53.9 226.1 55.7 226.8 57.4 C227.5 59.0 227.5 61.6 226.8 63.0 C226.1 64.4 224.4 65.5 222.5 65.8 C220.6 66.2 218.3 65.4 215.5 65.1 C212.6 64.9 207.2 66.4 205.6 64.4 C203.9 62.4 203.9 55.1 205.6 53.1Z" fill="#D65C14" />
<path d="M231.0 60.2 C232.4 58.9 235.7 58.2 238.1 58.1 C240.4 57.9 243.2 58.3 245.1 59.5 C247.0 60.7 248.9 62.9 249.4 65.1 C249.8 67.4 248.9 70.8 247.9 72.9 C247.0 75.0 245.6 76.8 243.7 77.8 C241.8 78.9 238.8 79.5 236.7 79.2 C234.5 79.0 232.3 77.7 231.0 76.4 C229.7 75.1 229.1 73.2 228.9 71.5 C228.7 69.7 229.2 67.7 229.6 65.8 C229.9 63.9 229.6 61.5 231.0 60.2Z" fill="#D65C14" />
<path d="M205.6 71.5 C207.2 69.7 212.9 70.7 215.5 70.8 C218.1 70.9 219.0 71.6 221.1 72.2 C223.2 72.8 227.0 72.8 228.2 74.3 C229.4 75.8 229.4 79.9 228.2 81.4 C227.0 82.8 223.5 82.7 221.1 82.8 C218.8 82.9 216.6 82.3 214.1 82.1 C211.5 81.8 207.0 83.1 205.6 81.4 C204.2 79.6 203.9 73.2 205.6 71.5Z" fill="#D65C14" />
<path d="M253.6 65.8 C255.7 65.1 260.4 66.5 263.5 67.2 C266.5 67.9 268.7 69.6 272.0 70.1 C275.2 70.5 279.7 70.3 283.2 70.1 C286.8 69.8 291.5 66.8 293.1 68.7 C294.8 70.5 294.8 78.8 293.1 81.4 C291.5 83.9 286.3 83.9 283.2 84.2 C280.2 84.4 277.6 83.2 274.8 82.8 C272.0 82.3 268.7 81.8 266.3 81.4 C263.9 80.9 262.5 80.9 260.7 79.9 C258.8 79.0 256.7 77.1 255.0 75.7 C253.4 74.3 251.0 73.1 250.8 71.5 C250.5 69.8 251.5 66.5 253.6 65.8Z" fill="#D65C14" />
<path d="M253.6 47.5 C255.0 46.2 260.2 46.8 263.5 46.8 C266.8 46.8 270.1 46.6 273.4 47.5 C276.7 48.3 280.0 50.8 283.2 51.7 C286.5 52.6 291.5 52.2 293.1 53.1 C294.8 54.1 294.8 56.4 293.1 57.4 C291.5 58.3 286.5 58.3 283.2 58.8 C280.0 59.2 276.2 59.9 273.4 60.2 C270.5 60.4 268.4 60.7 266.3 60.2 C264.2 59.7 262.5 58.3 260.7 57.4 C258.8 56.4 256.2 56.2 255.0 54.5 C253.8 52.9 252.2 48.8 253.6 47.5Z" fill="#D65C14" />
<path d="M221.1 87.0 C222.5 85.6 226.8 85.6 229.6 85.6 C232.4 85.6 235.2 87.0 238.1 87.0 C240.9 87.0 244.2 85.4 246.5 85.6 C248.9 85.8 250.8 87.2 252.2 88.4 C253.6 89.6 255.5 91.5 255.0 92.7 C254.5 93.8 252.2 94.8 249.4 95.5 C246.5 96.2 241.6 96.7 238.1 96.9 C234.5 97.1 231.0 97.4 228.2 96.9 C225.4 96.4 222.3 95.7 221.1 94.1 C219.9 92.4 219.7 88.4 221.1 87.0Z" fill="#D65C14" />
<path d="M260.7 85.6 C262.3 84.4 266.3 84.2 269.1 84.2 C272.0 84.2 275.2 84.7 277.6 85.6 C280.0 86.5 282.8 88.2 283.2 89.8 C283.7 91.5 282.3 94.3 280.4 95.5 C278.5 96.7 274.8 96.9 272.0 96.9 C269.1 96.9 265.6 96.4 263.5 95.5 C261.4 94.5 259.7 92.9 259.2 91.2 C258.8 89.6 259.0 86.8 260.7 85.6Z" fill="#D65C14" />
<path d="M286.1 85.6 C287.6 84.4 292.0 82.1 293.1 84.2 C294.3 86.3 294.5 95.9 293.1 98.3 C291.7 100.7 286.2 99.5 284.7 98.3 C283.1 97.1 283.7 93.4 284.0 91.2 C284.2 89.1 284.5 86.8 286.1 85.6Z" fill="#D65C14" />
<path d="M205.6 85.6 C206.3 83.8 208.6 83.7 209.8 84.2 C211.0 84.7 212.4 86.8 212.6 88.4 C212.9 90.1 212.4 93.0 211.2 94.1 C210.1 95.1 206.5 96.2 205.6 94.8 C204.6 93.4 204.9 87.4 205.6 85.6Z" fill="#D65C14" />
<path d="M205.6 94.6 C207.7 91.6 215.7 93.4 218.3 94.6 C220.9 95.8 220.9 99.1 221.1 101.6 C221.4 104.2 222.3 108.4 219.7 110.1 C217.1 111.9 207.9 114.8 205.6 112.2 C203.2 109.6 203.5 97.5 205.6 94.6Z" fill="#D65C14" />
<path d="M221.1 104.5 C222.4 103.4 225.4 105.5 228.2 105.2 C231.0 104.8 235.5 103.3 238.1 102.4 C240.7 101.4 241.4 100.4 243.7 99.5 C246.1 98.7 249.6 98.0 252.2 97.4 C254.8 96.8 257.8 94.8 259.2 96.0 C260.7 97.2 261.8 102.2 260.7 104.5 C259.5 106.7 255.0 108.1 252.2 109.4 C249.4 110.7 246.1 111.1 243.7 112.2 C241.4 113.4 240.2 115.5 238.1 116.5 C235.9 117.4 233.1 118.1 231.0 117.9 C228.9 117.7 227.1 116.1 225.4 115.1 C223.6 114.0 221.1 113.3 220.4 111.5 C219.7 109.8 219.8 105.5 221.1 104.5Z" fill="#D65C14" />
<path d="M205.6 113.6 C207.7 107.8 215.0 112.5 218.3 112.9 C221.6 113.4 223.2 115.4 225.4 116.5 C227.5 117.5 229.0 118.9 231.0 119.3 C233.0 119.7 236.1 117.8 237.4 118.6 C238.7 119.4 238.3 122.0 238.8 124.2 C239.2 126.5 240.8 129.8 240.2 132.0 C239.6 134.2 237.2 136.0 235.2 137.7 C233.2 139.3 230.5 140.7 228.2 141.9 C225.8 143.1 223.5 143.8 221.1 144.7 C218.8 145.7 216.6 146.9 214.1 147.5 C211.5 148.1 207.0 153.9 205.6 148.2 C204.2 142.6 203.5 119.5 205.6 113.6Z" fill="#D65C14" />
<path d="M240.2 117.9 C240.8 116.2 241.7 115.5 243.7 114.4 C245.7 113.2 249.5 111.8 252.2 110.8 C254.9 109.9 258.2 107.6 259.9 108.7 C261.7 109.8 262.3 114.1 262.8 117.2 C263.2 120.2 263.1 124.7 262.8 127.1 C262.4 129.4 262.9 129.9 260.7 131.3 C258.4 132.7 252.5 135.4 249.4 135.5 C246.2 135.7 243.1 133.9 241.6 132.0 C240.1 130.1 240.4 126.6 240.2 124.2 C239.9 121.9 239.6 119.5 240.2 117.9Z" fill="#D65C14" />
<path d="M264.9 107.3 C266.4 105.4 270.3 107.1 273.4 107.3 C276.4 107.5 280.0 108.7 283.2 108.7 C286.5 108.7 291.5 103.8 293.1 107.3 C294.8 110.8 294.3 125.9 293.1 129.9 C292.0 133.9 288.7 131.2 286.1 131.3 C283.5 131.4 280.2 130.9 277.6 130.6 C275.0 130.2 272.8 129.9 270.5 129.2 C268.3 128.5 265.2 128.1 264.2 126.4 C263.1 124.6 264.1 121.8 264.2 118.6 C264.3 115.4 263.4 109.2 264.9 107.3Z" fill="#D65C14" />
<path d="M241.6 134.1 C243.9 133.8 247.9 136.0 249.4 137.7 C250.8 139.3 250.2 142.0 250.1 144.0 C249.9 146.0 249.2 147.3 248.7 149.7 C248.1 152.0 249.9 156.7 246.5 158.1 C243.1 159.5 232.4 159.1 228.2 158.1 C223.9 157.2 221.1 154.8 221.1 152.5 C221.1 150.1 225.8 146.1 228.2 144.0 C230.5 141.9 233.0 141.4 235.2 139.8 C237.5 138.1 239.2 134.5 241.6 134.1Z" fill="#D65C14" />
<path d="M250.8 137.7 C252.3 137.2 258.1 140.0 260.7 141.2 C263.2 142.4 263.9 144.1 266.3 144.7 C268.7 145.3 273.1 143.9 274.8 144.7 C276.4 145.5 276.9 147.4 276.2 149.7 C275.5 151.9 275.0 156.7 270.5 158.1 C266.1 159.5 252.8 159.5 249.4 158.1 C245.9 156.7 249.7 152.0 250.1 149.7 C250.4 147.3 251.4 146.0 251.5 144.0 C251.6 142.0 249.2 138.1 250.8 137.7Z" fill="#D65C14" />
<path d="M277.6 132.7 C279.1 131.4 283.5 133.4 286.1 133.4 C288.7 133.4 292.0 128.6 293.1 132.7 C294.3 136.8 295.7 153.9 293.1 158.1 C290.5 162.4 280.4 159.5 277.6 158.1 C274.8 156.7 276.3 152.5 276.2 149.7 C276.1 146.8 276.7 144.0 276.9 141.2 C277.1 138.4 276.1 134.0 277.6 132.7Z" fill="#D65C14" />
<path d="M205.6 149.7 C207.0 148.1 211.5 149.4 214.1 148.9 C216.6 148.5 219.7 145.3 221.1 146.8 C222.5 148.4 225.1 156.2 222.5 158.1 C219.9 160.0 208.4 159.5 205.6 158.1 C202.8 156.7 204.2 151.2 205.6 149.7Z" fill="#D65C14" />
<path d="M205.6 151.6 C211.0 150.1 232.9 150.4 238.1 151.6 C243.2 152.8 237.6 157.0 236.7 158.6 C235.7 160.3 235.0 161.0 232.4 161.5 C229.8 161.9 223.9 161.7 221.1 161.5 C218.3 161.2 218.1 160.2 215.5 160.1 C212.9 159.9 207.2 162.2 205.6 160.8 C203.9 159.4 200.2 153.1 205.6 151.6Z" fill="#D65C14" />
<path d="M219.7 165.7 C222.1 165.2 227.0 166.6 229.6 167.1 C232.2 167.6 232.9 168.8 235.2 168.5 C237.6 168.3 241.6 165.2 243.7 165.7 C245.8 166.2 247.5 169.0 247.9 171.4 C248.4 173.7 247.9 177.9 246.5 179.8 C245.1 181.7 241.4 181.9 239.5 182.7 C237.6 183.4 236.9 183.6 235.2 184.1 C233.6 184.5 231.9 185.9 229.6 185.5 C227.2 185.0 223.5 182.4 221.1 181.2 C218.8 180.1 216.4 180.3 215.5 178.4 C214.5 176.5 214.8 172.1 215.5 169.9 C216.2 167.8 217.4 166.2 219.7 165.7Z" fill="#D65C14" />
<path d="M246.5 151.6 C249.4 150.4 256.7 150.4 259.2 151.6 C261.8 152.8 260.9 156.1 262.1 158.6 C263.2 161.2 265.4 164.8 266.3 167.1 C267.2 169.5 268.2 170.9 267.7 172.8 C267.2 174.7 264.7 176.8 263.5 178.4 C262.3 180.1 262.1 182.2 260.7 182.7 C259.2 183.1 256.9 181.7 255.0 181.2 C253.1 180.8 250.5 181.5 249.4 179.8 C248.2 178.2 248.9 173.9 247.9 171.4 C247.0 168.8 244.7 166.4 243.7 164.3 C242.8 162.2 241.8 160.8 242.3 158.6 C242.8 156.5 243.7 152.8 246.5 151.6Z" fill="#D65C14" />
<path d="M274.8 151.6 C278.5 149.9 290.1 147.6 293.1 151.6 C296.2 155.6 294.3 171.4 293.1 175.6 C292.0 179.8 288.7 177.2 286.1 177.0 C283.5 176.8 279.7 175.6 277.6 174.2 C275.5 172.8 274.5 170.6 273.4 168.5 C272.2 166.4 270.3 164.3 270.5 161.5 C270.8 158.6 271.0 153.2 274.8 151.6Z" fill="#D65C14" />
<path d="M221.1 192.5 C222.5 191.1 224.4 191.6 226.8 191.1 C229.1 190.7 232.7 189.5 235.2 189.7 C237.8 189.9 240.2 192.5 242.3 192.5 C244.4 192.5 245.6 189.7 247.9 189.7 C250.3 189.7 254.3 191.6 256.4 192.5 C258.5 193.5 259.5 193.9 260.7 195.4 C261.8 196.8 263.5 199.1 263.5 201.0 C263.5 202.9 263.0 205.5 260.7 206.7 C258.3 207.8 253.1 207.6 249.4 208.1 C245.6 208.5 241.6 209.2 238.1 209.5 C234.5 209.7 231.0 209.9 228.2 209.5 C225.4 209.0 222.8 208.3 221.1 206.7 C219.5 205.0 218.3 201.9 218.3 199.6 C218.3 197.2 219.7 193.9 221.1 192.5Z" fill="#D65C14" />
<path d="M263.5 181.2 C264.7 180.1 268.7 181.9 272.0 182.7 C275.2 183.4 279.7 184.8 283.2 185.5 C286.8 186.2 291.5 182.9 293.1 186.9 C294.8 190.9 294.5 205.9 293.1 209.5 C291.7 213.0 287.2 208.8 284.7 208.1 C282.1 207.4 279.2 206.7 277.6 205.2 C276.0 203.8 276.2 201.5 274.8 199.6 C273.4 197.7 270.8 195.6 269.1 193.9 C267.5 192.3 265.8 191.8 264.9 189.7 C263.9 187.6 262.3 182.4 263.5 181.2Z" fill="#D65C14" />
<path d="M205.6 195.4 C207.2 193.0 213.1 194.4 215.5 195.4 C217.8 196.3 219.2 198.7 219.7 201.0 C220.2 203.4 220.6 208.1 218.3 209.5 C215.9 210.9 207.7 211.8 205.6 209.5 C203.5 207.1 203.9 197.7 205.6 195.4Z" fill="#D65C14" />
<path d="M221.1 212.3 C223.5 210.9 230.5 211.1 235.2 210.9 C239.9 210.7 244.7 211.1 249.4 210.9 C254.1 210.7 259.7 209.2 263.5 209.5 C267.2 209.7 270.5 210.7 272.0 212.3 C273.4 213.9 280.4 218.2 272.0 219.4 C263.5 220.5 229.6 220.5 221.1 219.4 C212.6 218.2 218.8 213.7 221.1 212.3Z" fill="#D65C14" />
<path d="M277.6 209.5 C279.7 208.1 290.5 209.2 293.1 210.9 C295.7 212.5 295.2 218.0 293.1 219.4 C291.0 220.8 283.0 221.0 280.4 219.4 C277.8 217.7 275.5 210.9 277.6 209.5Z" fill="#D65C14" />
<path d="M205.6 212.3 C207.2 211.4 213.4 212.5 215.5 213.7 C217.6 214.9 219.9 218.4 218.3 219.4 C216.6 220.3 207.7 220.5 205.6 219.4 C203.5 218.2 203.9 213.2 205.6 212.3Z" fill="#D65C14" />
</g>
<g filter="url(#bl1)">
<path d="M209.8 47.5 C210.6 46.6 213.8 46.3 215.5 46.8 C217.1 47.2 219.7 49.4 219.7 50.3 C219.7 51.2 217.0 51.8 215.5 52.0 C213.9 52.2 211.5 52.5 210.5 51.7 C209.6 51.0 209.0 48.3 209.8 47.5Z" fill="#220400" />
<path d="M208.4 65.8 C209.6 65.1 213.6 64.2 215.5 64.4 C217.4 64.7 219.2 66.1 219.7 67.2 C220.2 68.4 219.7 71.0 218.3 71.5 C216.9 71.9 212.9 70.5 211.2 70.1 C209.6 69.6 208.9 69.4 208.4 68.7 C207.9 67.9 207.2 66.5 208.4 65.8Z" fill="#220400" />
<path d="M209.8 84.2 C211.0 82.5 213.8 82.3 215.5 82.8 C217.1 83.2 219.2 85.4 219.7 87.0 C220.2 88.7 219.5 91.2 218.3 92.7 C217.1 94.1 214.3 95.5 212.6 95.5 C211.0 95.5 208.9 94.5 208.4 92.7 C207.9 90.8 208.6 85.8 209.8 84.2Z" fill="#220400" />
<path d="M246.5 81.4 C247.0 80.4 249.8 79.9 252.2 79.9 C254.5 79.9 258.3 80.7 260.7 81.4 C263.0 82.1 265.8 83.0 266.3 84.2 C266.8 85.4 265.4 87.9 263.5 88.4 C261.6 88.9 257.4 87.5 255.0 87.0 C252.7 86.5 250.8 86.5 249.4 85.6 C247.9 84.7 246.1 82.3 246.5 81.4Z" fill="#220400" />
<path d="M246.5 141.2 C247.6 139.8 252.7 139.8 253.6 141.2 C254.5 142.6 253.2 148.2 252.2 149.7 C251.1 151.1 248.2 151.1 247.2 149.7 C246.3 148.2 245.5 142.6 246.5 141.2Z" fill="#220400" />
<path d="M273.4 142.6 C274.4 141.4 279.4 141.4 280.4 142.6 C281.5 143.8 280.8 148.5 279.7 149.7 C278.7 150.8 275.1 150.8 274.1 149.7 C273.0 148.5 272.3 143.8 273.4 142.6Z" fill="#220400" />
<path d="M228.2 139.8 C229.6 138.8 236.5 138.8 238.1 139.8 C239.6 140.7 238.8 144.5 237.4 145.4 C235.9 146.4 231.1 146.4 229.6 145.4 C228.1 144.5 226.8 140.7 228.2 139.8Z" fill="#220400" />
<path d="M266.3 104.5 C267.1 103.5 271.1 104.5 272.0 105.9 C272.8 107.3 272.1 112.0 271.2 112.9 C270.4 113.9 267.8 112.9 267.0 111.5 C266.2 110.1 265.5 105.4 266.3 104.5Z" fill="#220400" />
<path d="M208.4 161.5 C209.9 161.2 213.6 159.8 215.5 160.1 C217.4 160.3 219.7 161.7 219.7 162.9 C219.7 164.1 216.6 165.2 215.5 167.1 C214.3 169.0 213.6 172.5 212.6 174.2 C211.7 175.8 210.9 177.0 209.8 177.0 C208.8 177.0 206.9 176.8 206.3 174.2 C205.7 171.6 205.9 163.6 206.3 161.5 C206.6 159.4 206.9 161.7 208.4 161.5Z" fill="#220400" />
<path d="M206.3 181.2 C207.8 179.6 213.2 181.9 215.5 182.7 C217.7 183.4 219.7 184.3 219.7 185.5 C219.7 186.7 216.6 188.3 215.5 189.7 C214.3 191.1 214.2 193.5 212.6 193.9 C211.1 194.4 207.4 194.7 206.3 192.5 C205.2 190.4 204.8 182.9 206.3 181.2Z" fill="#220400" />
<path d="M223.9 188.3 C224.6 187.4 227.7 186.2 229.6 185.5 C231.5 184.8 234.5 183.6 235.2 184.1 C235.9 184.5 234.8 187.1 233.8 188.3 C232.9 189.5 231.0 190.7 229.6 191.1 C228.2 191.6 226.3 191.6 225.4 191.1 C224.4 190.7 223.2 189.2 223.9 188.3Z" fill="#220400" />
<path d="M247.9 181.2 C248.7 180.5 251.7 180.5 253.6 181.2 C255.5 181.9 258.1 184.1 259.2 185.5 C260.4 186.9 261.1 188.8 260.7 189.7 C260.2 190.7 257.8 191.4 256.4 191.1 C255.0 190.9 253.4 189.2 252.2 188.3 C251.0 187.4 250.1 186.7 249.4 185.5 C248.7 184.3 247.2 181.9 247.9 181.2Z" fill="#220400" />
<path d="M286.1 178.4 C287.0 177.2 292.0 175.8 293.1 177.0 C294.3 178.2 294.1 184.3 293.1 185.5 C292.2 186.7 288.7 185.2 287.5 184.1 C286.3 182.9 285.1 179.6 286.1 178.4Z" fill="#220400" />
<path d="M269.1 195.4 C269.8 194.2 273.6 193.2 274.8 193.9 C276.0 194.7 276.4 197.9 276.2 199.6 C276.0 201.2 274.3 203.6 273.4 203.8 C272.4 204.1 271.2 202.4 270.5 201.0 C269.8 199.6 268.4 196.5 269.1 195.4Z" fill="#220400" />
<path d="M273.4 209.5 C274.3 207.8 278.3 209.0 280.4 209.5 C282.5 209.9 285.1 210.7 286.1 212.3 C287.0 213.9 288.0 218.2 286.1 219.4 C284.2 220.5 276.9 221.0 274.8 219.4 C272.7 217.7 272.4 211.1 273.4 209.5Z" fill="#220400" />
<ellipse cx="212.6" cy="41.8" rx="3.1" ry="2.3" fill="#F2A658"/>
<ellipse cx="212.6" cy="41.8" rx="2.1" ry="1.6" fill="#FFF2CC"/>
<ellipse cx="227.8" cy="46.1" rx="4.3" ry="3.1" fill="#F2A658"/>
<ellipse cx="227.8" cy="46.1" rx="2.9" ry="2.1" fill="#FFF2CC"/>
<ellipse cx="257.1" cy="41.5" rx="3.9" ry="1.9" fill="#F2A658"/>
<ellipse cx="257.1" cy="41.5" rx="2.6" ry="1.3" fill="#FFF2CC"/>
<ellipse cx="259.2" cy="46.4" rx="4.7" ry="2.7" fill="#F2A658"/>
<ellipse cx="259.2" cy="46.4" rx="3.2" ry="1.9" fill="#FFF2CC"/>
<ellipse cx="286.8" cy="42.2" rx="3.9" ry="2.7" fill="#F2A658"/>
<ellipse cx="286.8" cy="42.2" rx="2.6" ry="1.9" fill="#FFF2CC"/>
<ellipse cx="228.2" cy="57.4" rx="3.1" ry="2.3" fill="#F2A658"/>
<ellipse cx="228.2" cy="57.4" rx="2.1" ry="1.6" fill="#FFF2CC"/>
<ellipse cx="224.6" cy="65.5" rx="3.9" ry="3.5" fill="#F2A658"/>
<ellipse cx="224.6" cy="65.5" rx="2.6" ry="2.4" fill="#FFF2CC"/>
<ellipse cx="252.9" cy="64.4" rx="4.7" ry="3.1" fill="#F2A658"/>
<ellipse cx="252.9" cy="64.4" rx="3.2" ry="2.1" fill="#FFF2CC"/>
<ellipse cx="276.2" cy="67.2" rx="4.7" ry="3.9" fill="#F2A658"/>
<ellipse cx="276.2" cy="67.2" rx="3.2" ry="2.6" fill="#FFF2CC"/>
<ellipse cx="253.6" cy="75.7" rx="3.9" ry="3.1" fill="#F2A658"/>
<ellipse cx="253.6" cy="75.7" rx="2.6" ry="2.1" fill="#FFF2CC"/>
<ellipse cx="277.6" cy="77.5" rx="4.7" ry="2.7" fill="#F2A658"/>
<ellipse cx="277.6" cy="77.5" rx="3.2" ry="1.9" fill="#FFF2CC"/>
<ellipse cx="224.6" cy="83.8" rx="3.9" ry="2.7" fill="#F2A658"/>
<ellipse cx="224.6" cy="83.8" rx="2.6" ry="1.9" fill="#FFF2CC"/>
<ellipse cx="233.5" cy="86.7" rx="4.3" ry="3.5" fill="#F2A658"/>
<ellipse cx="233.5" cy="86.7" rx="2.9" ry="2.4" fill="#FFF2CC"/>
<ellipse cx="244.4" cy="90.2" rx="3.9" ry="2.7" fill="#F2A658"/>
<ellipse cx="244.4" cy="90.2" rx="2.6" ry="1.9" fill="#FFF2CC"/>
<ellipse cx="284.0" cy="86.3" rx="4.7" ry="3.1" fill="#F2A658"/>
<ellipse cx="284.0" cy="86.3" rx="3.2" ry="2.1" fill="#FFF2CC"/>
<ellipse cx="207.7" cy="80.7" rx="2.3" ry="2.3" fill="#F2A658"/>
<ellipse cx="207.7" cy="80.7" rx="1.6" ry="1.6" fill="#FFF2CC"/>
<ellipse cx="214.1" cy="106.2" rx="3.9" ry="2.7" fill="#F2A658"/>
<ellipse cx="214.1" cy="106.2" rx="2.6" ry="1.9" fill="#FFF2CC"/>
<ellipse cx="220.4" cy="122.5" rx="3.9" ry="3.5" fill="#F2A658"/>
<ellipse cx="220.4" cy="122.5" rx="2.6" ry="2.4" fill="#FFF2CC"/>
<ellipse cx="248.7" cy="112.9" rx="3.9" ry="3.1" fill="#F2A658"/>
<ellipse cx="248.7" cy="112.9" rx="2.6" ry="2.1" fill="#FFF2CC"/>
<ellipse cx="267.7" cy="103.8" rx="3.1" ry="3.1" fill="#F2A658"/>
<ellipse cx="267.7" cy="103.8" rx="2.1" ry="2.1" fill="#FFF2CC"/>
<ellipse cx="274.8" cy="109.8" rx="3.1" ry="2.7" fill="#F2A658"/>
<ellipse cx="274.8" cy="109.8" rx="2.1" ry="1.9" fill="#FFF2CC"/>
<ellipse cx="282.5" cy="111.2" rx="3.1" ry="4.3" fill="#F2A658"/>
<ellipse cx="282.5" cy="111.2" rx="2.1" ry="2.9" fill="#FFF2CC"/>
<ellipse cx="290.3" cy="118.2" rx="3.1" ry="2.7" fill="#F2A658"/>
<ellipse cx="290.3" cy="118.2" rx="2.1" ry="1.9" fill="#FFF2CC"/>
<ellipse cx="235.6" cy="143.3" rx="1.9" ry="2.3" fill="#F2A658"/>
<ellipse cx="235.6" cy="143.3" rx="1.3" ry="1.6" fill="#FFF2CC"/>
<ellipse cx="267.0" cy="148.2" rx="2.3" ry="2.3" fill="#F2A658"/>
<ellipse cx="267.0" cy="148.2" rx="1.6" ry="1.6" fill="#FFF2CC"/>
<ellipse cx="224.6" cy="157.9" rx="5.4" ry="2.3" fill="#F2A658"/>
<ellipse cx="224.6" cy="157.9" rx="3.7" ry="1.6" fill="#FFF2CC"/>
<ellipse cx="228.9" cy="173.1" rx="3.1" ry="2.7" fill="#F2A658"/>
<ellipse cx="228.9" cy="173.1" rx="2.1" ry="1.9" fill="#FFF2CC"/>
<ellipse cx="237.4" cy="171.4" rx="3.1" ry="2.3" fill="#F2A658"/>
<ellipse cx="237.4" cy="171.4" rx="2.1" ry="1.6" fill="#FFF2CC"/>
<ellipse cx="277.6" cy="159.4" rx="4.7" ry="3.9" fill="#F2A658"/>
<ellipse cx="277.6" cy="159.4" rx="3.2" ry="2.6" fill="#FFF2CC"/>
<ellipse cx="282.5" cy="163.9" rx="3.9" ry="3.5" fill="#F2A658"/>
<ellipse cx="282.5" cy="163.9" rx="2.6" ry="2.4" fill="#FFF2CC"/>
<ellipse cx="242.3" cy="189.7" rx="3.9" ry="3.9" fill="#F2A658"/>
<ellipse cx="242.3" cy="189.7" rx="2.6" ry="2.6" fill="#FFF2CC"/>
<ellipse cx="227.5" cy="194.7" rx="2.3" ry="2.3" fill="#F2A658"/>
<ellipse cx="227.5" cy="194.7" rx="1.6" ry="1.6" fill="#FFF2CC"/>
<ellipse cx="246.5" cy="196.1" rx="3.1" ry="2.3" fill="#F2A658"/>
<ellipse cx="246.5" cy="196.1" rx="2.1" ry="1.6" fill="#FFF2CC"/>
<ellipse cx="252.2" cy="196.8" rx="3.1" ry="4.7" fill="#F2A658"/>
<ellipse cx="252.2" cy="196.8" rx="2.1" ry="3.2" fill="#FFF2CC"/>
<ellipse cx="265.6" cy="193.6" rx="3.9" ry="5.0" fill="#F2A658"/>
<ellipse cx="265.6" cy="193.6" rx="2.6" ry="3.4" fill="#FFF2CC"/>
<ellipse cx="280.8" cy="186.2" rx="3.5" ry="3.9" fill="#F2A658"/>
<ellipse cx="280.8" cy="186.2" rx="2.4" ry="2.6" fill="#FFF2CC"/>
<ellipse cx="286.1" cy="202.4" rx="4.7" ry="3.1" fill="#F2A658"/>
<ellipse cx="286.1" cy="202.4" rx="3.2" ry="2.1" fill="#FFF2CC"/>
</g></g>
<defs><filter id="blb" x="-5%" y="-5%" width="110%" height="110%"><feGaussianBlur stdDeviation="0.8"/></filter></defs>
<clipPath id="cb_"><rect x="15.4" y="278.8" width="153.4" height="176.89999999999998"/></clipPath>
<g clip-path="url(#cb_)"><rect x="15.4" y="278.8" width="153.4" height="176.89999999999998" fill="#050000"/>
<g filter="url(#blb)">
<path d="M10.0 293.5 L19.0 292.5 L23.5 290.0 L25.8 285.0 L26.3 276.0 L48.1 276.0 L46.2 283.0 L41.9 288.6 L36.2 291.8 L31.2 293.0 L30.0 296.8 L31.9 301.1 L30.0 305.5 L27.5 311.8 L24.4 319.2 L21.2 325.5 L22.5 327.4 L25.6 326.1 L29.4 320.5 L32.5 315.5 L35.0 312.0 L39.4 310.8 L46.2 311.1 L51.9 313.6 L55.6 317.4 L58.8 321.1 L65.0 322.8 L70.0 323.3 L76.7 323.3 L81.7 326.7 L85.0 333.3 L85.8 338.3 L85.0 343.3 L86.7 348.3 L85.8 355.0 L83.3 360.0 L78.3 362.5 L73.3 363.3 L68.0 366.0 L64.1 368.0 L61.9 371.8 L59.0 378.3 L55.3 384.0 L51.6 386.8 L46.9 386.8 L42.2 384.0 L38.4 377.4 L33.8 375.5 L22.5 376.4 L21.5 383.0 L22.5 390.0 L22.5 396.0 L22.5 399.9 L33.8 400.8 L41.2 399.0 L45.0 396.1 L52.5 394.2 L61.9 395.2 L69.4 399.0 L73.1 405.5 L75.0 413.0 L71.2 420.5 L67.5 424.2 L60.0 431.8 L54.4 439.2 L51.6 446.8 L49.7 460.0 L10.0 460.0Z" fill="#E8892E" />
<path d="M72.0 276.0 L71.9 283.0 L65.0 286.0 L60.0 288.6 L58.8 292.4 L61.2 296.0 L65.0 297.4 L66.2 301.8 L70.0 304.2 L75.0 306.0 L77.5 305.0 L85.0 306.8 L90.0 305.0 L93.8 300.0 L97.5 295.5 L102.4 294.9 L108.0 289.2 L110.8 283.6 L106.1 276.0Z" fill="#E8892E" />
<path d="M91.6 331.2 L94.2 326.0 L97.3 321.9 L101.5 319.3 L107.7 319.3 L114.0 320.3 L119.2 322.4 L123.0 322.0 L124.5 316.0 L127.0 309.0 L131.0 304.0 L138.0 300.5 L147.4 297.8 L155.5 298.5 L158.0 296.0 L163.0 293.5 L172.0 294.0 L172.0 306.0 L166.0 310.0 L164.0 316.0 L163.5 320.0 L162.5 326.7 L162.7 333.3 L161.0 340.0 L163.5 346.7 L172.0 350.0 L172.0 409.5 L155.5 410.0 L151.0 407.7 L147.5 401.0 L144.0 395.5 L137.0 393.0 L131.0 392.0 L122.5 391.0 L111.2 389.0 L99.8 389.8 L93.3 393.0 L88.0 397.5 L81.0 398.5 L75.0 397.0 L71.5 392.0 L70.0 385.0 L70.5 378.0 L73.0 373.0 L78.0 370.0 L85.0 368.0 L89.0 365.0 L91.7 358.3 L91.7 345.0 L90.0 336.7Z" fill="#E8892E" />
<path d="M56.0 460.0 L59.0 451.0 L61.0 446.8 L63.8 437.4 L69.4 430.8 L76.9 427.0 L86.2 426.1 L90.0 430.4 L94.9 432.0 L97.3 436.1 L103.0 435.3 L106.3 430.4 L105.5 425.6 L101.4 422.3 L96.5 417.4 L94.9 409.3 L96.5 402.8 L99.8 399.5 L106.3 397.9 L112.8 397.9 L120.9 398.7 L128.0 398.5 L135.0 398.0 L140.0 398.5 L143.7 399.5 L145.3 409.3 L153.4 417.4 L155.0 425.5 L151.8 432.0 L145.3 435.3 L138.8 440.2 L133.9 448.3 L132.5 460.0Z" fill="#E8892E" />
<path d="M137.1 460.0 L140.6 442.4 L145.8 437.2 L151.0 434.7 L159.6 433.8 L172.0 434.7 L172.0 460.0Z" fill="#E8892E" />
<path d="M162.7 276.0 L172.0 276.0 L172.0 282.5 L163.0 282.5Z" fill="#E8892E" />
<ellipse cx="142.2" cy="294.6" rx="2.3" ry="3" fill="#E8892E" />
<path d="M15.0 293.0 L22.0 290.0 L27.0 292.0 L30.0 297.0 L29.0 305.0 L26.0 312.0 L23.0 318.0 L20.0 322.0 L15.0 323.0Z" fill="#F2A455" />
<path d="M35.0 313.5 C36.0 312.3 38.0 312.1 40.0 311.8 C42.0 311.6 45.0 311.6 47.0 312.0 C49.0 312.4 50.7 313.4 52.0 314.5 C53.3 315.6 55.3 317.5 55.0 318.5 C54.7 319.5 52.5 320.2 50.0 320.5 C47.5 320.8 42.7 320.8 40.0 320.5 C37.3 320.2 34.8 320.2 34.0 319.0 C33.2 317.8 34.0 314.7 35.0 313.5Z" fill="#FFD9A0" />
<ellipse cx="60.5" cy="290.5" rx="2.8" ry="2.5" fill="#FBC888" />
<ellipse cx="67.5" cy="294.5" rx="3" ry="2.5" fill="#FBC888" />
<path d="M78.0 300.0 C78.8 299.0 82.0 298.6 84.0 298.5 C86.0 298.4 88.8 298.8 90.0 299.5 C91.2 300.2 91.7 302.0 91.0 303.0 C90.3 304.0 88.0 305.2 86.0 305.5 C84.0 305.8 80.3 305.4 79.0 304.5 C77.7 303.6 77.2 301.0 78.0 300.0Z" fill="#F9C080" />
<path d="M25.9 274.8 C30.0 273.7 45.8 273.8 49.4 275.1 C53.1 276.4 48.8 280.4 47.8 282.7 C46.8 285.1 45.2 287.7 43.3 289.3 C41.4 291.0 38.7 292.2 36.6 292.8 C34.5 293.4 32.4 293.3 30.8 292.9 C29.2 292.6 28.1 291.6 27.2 290.5 C26.3 289.3 25.6 287.4 25.2 285.9 C24.8 284.4 24.9 283.3 25.0 281.5 C25.1 279.6 21.9 275.9 25.9 274.8Z" fill="#F7B870" /><path d="M27.0 276.0 C30.6 275.0 44.9 274.8 48.1 276.0 C51.3 277.2 47.3 280.9 46.2 283.0 C45.2 285.1 43.6 287.2 41.9 288.6 C40.2 290.0 38.0 290.7 36.2 291.2 C34.5 291.7 32.8 291.8 31.5 291.5 C30.2 291.2 29.3 290.5 28.5 289.5 C27.7 288.5 27.1 287.0 26.8 285.8 C26.5 284.5 26.5 283.6 26.5 282.0 C26.5 280.4 23.4 277.0 27.0 276.0Z" fill="#FFFDF0" />
<path d="M103.7 275.5 C109.2 274.5 135.4 274.4 141.4 275.5 C147.4 276.5 141.2 279.9 139.6 281.7 C138.0 283.5 134.7 285.0 131.9 286.2 C129.2 287.4 125.9 289.0 123.0 289.0 C120.0 289.0 116.5 287.4 114.0 286.2 C111.6 285.0 110.0 283.5 108.3 281.7 C106.6 279.9 98.2 276.5 103.7 275.5Z" fill="#F7B870" /><path d="M105.2 276.0 C110.2 275.0 134.4 275.0 139.9 276.0 C145.4 277.0 139.6 280.2 138.0 281.8 C136.4 283.3 133.0 284.6 130.5 285.5 C128.0 286.4 125.5 287.4 123.0 287.4 C120.5 287.4 117.7 286.4 115.5 285.5 C113.3 284.6 111.6 283.3 109.9 281.8 C108.2 280.2 100.2 277.0 105.2 276.0Z" fill="#FFFDF0" />
<path d="M125.2 313.6 C125.6 311.4 127.1 307.5 129.0 305.5 C131.0 303.4 133.9 302.4 137.0 301.2 C140.0 299.9 144.3 298.3 147.4 298.0 C150.5 297.7 153.6 298.2 155.7 299.1 C157.8 300.0 158.0 302.2 159.8 303.2 C161.7 304.3 165.0 304.1 166.7 305.5 C168.3 306.9 169.3 309.4 169.6 311.6 C169.9 313.8 169.6 316.8 168.7 318.7 C167.7 320.6 165.9 321.6 163.8 322.9 C161.6 324.2 158.9 325.3 155.8 326.2 C152.7 327.1 148.7 328.2 145.3 328.3 C141.8 328.5 137.7 327.7 135.0 327.0 C132.3 326.2 130.6 325.2 129.1 323.8 C127.6 322.4 126.8 320.4 126.1 318.7 C125.5 317.0 124.7 315.8 125.2 313.6Z" fill="#F7B870" /><path d="M126.8 313.6 C127.2 311.6 128.6 308.0 130.5 306.1 C132.4 304.2 135.2 303.5 138.0 302.4 C140.8 301.3 144.6 299.9 147.4 299.6 C150.2 299.3 153.0 299.7 154.9 300.5 C156.8 301.3 156.9 303.3 158.6 304.2 C160.3 305.2 163.6 304.9 165.2 306.1 C166.8 307.4 167.7 309.7 168.0 311.8 C168.3 313.8 168.0 316.6 167.1 318.3 C166.2 320.0 164.4 321.0 162.4 322.1 C160.4 323.2 157.7 324.1 154.9 324.9 C152.1 325.7 148.6 326.6 145.5 326.8 C142.4 326.9 138.6 326.4 136.1 325.8 C133.6 325.2 131.9 324.2 130.5 323.0 C129.1 321.8 128.3 319.9 127.7 318.3 C127.1 316.7 126.3 315.6 126.8 313.6Z" fill="#FFFDF0" />
<path d="M157.5 297.4 C158.4 296.0 160.6 294.4 162.6 294.0 C164.6 293.5 168.2 293.9 169.7 294.9 C171.2 295.9 171.7 298.3 171.6 300.0 C171.5 301.7 170.8 304.2 169.1 305.2 C167.4 306.2 163.2 306.4 161.3 305.9 C159.4 305.5 158.1 304.0 157.5 302.6 C156.9 301.2 156.7 298.9 157.5 297.4Z" fill="#F7B870" /><path d="M159.0 298.0 C159.7 296.9 161.4 295.8 163.0 295.5 C164.6 295.2 167.3 295.2 168.5 296.0 C169.7 296.8 170.1 298.7 170.0 300.0 C169.9 301.3 169.3 303.2 168.0 304.0 C166.7 304.8 163.5 304.8 162.0 304.5 C160.5 304.2 159.5 303.1 159.0 302.0 C158.5 300.9 158.3 299.1 159.0 298.0Z" fill="#FFFDF0" />
<path d="M72.6 379.2 C73.2 376.6 74.4 374.9 76.1 373.7 C77.9 372.4 80.7 371.8 82.9 371.9 C85.2 372.0 88.0 372.7 89.8 374.1 C91.6 375.5 93.2 377.8 94.0 380.4 C94.7 382.9 95.0 387.0 94.5 389.6 C94.0 392.3 92.6 394.8 90.9 396.3 C89.1 397.8 86.4 398.6 84.1 398.6 C81.7 398.6 78.6 397.9 76.7 396.4 C74.8 394.9 73.2 392.5 72.5 389.6 C71.8 386.8 72.0 381.9 72.6 379.2Z" fill="#F7B870" /><path d="M74.0 380.0 C74.5 377.7 75.5 376.1 77.0 375.0 C78.5 373.9 81.0 373.4 83.0 373.5 C85.0 373.6 87.4 374.2 89.0 375.5 C90.6 376.8 91.8 378.8 92.5 381.0 C93.2 383.2 93.4 386.7 93.0 389.0 C92.6 391.3 91.5 393.7 90.0 395.0 C88.5 396.3 86.1 397.0 84.0 397.0 C81.9 397.0 79.2 396.3 77.5 395.0 C75.8 393.7 74.6 391.5 74.0 389.0 C73.4 386.5 73.5 382.3 74.0 380.0Z" fill="#FFFDF0" />
<path d="M96.4 381.8 C96.6 380.3 98.3 378.8 100.1 378.2 C101.8 377.6 105.4 377.6 107.1 378.3 C108.7 379.0 110.1 381.0 110.1 382.5 C110.1 384.0 108.9 386.5 107.0 387.2 C105.1 388.0 100.7 388.1 98.9 387.2 C97.1 386.3 96.2 383.3 96.4 381.8Z" fill="#F7B870" /><path d="M98.0 382.0 C98.2 380.9 99.7 379.9 101.0 379.5 C102.3 379.1 104.8 379.0 106.0 379.5 C107.2 380.0 108.5 381.4 108.5 382.5 C108.5 383.6 107.4 385.4 106.0 386.0 C104.6 386.6 101.3 386.7 100.0 386.0 C98.7 385.3 97.8 383.1 98.0 382.0Z" fill="#FFFDF0" />
<path d="M135.5 385.3 C136.3 383.9 137.4 382.2 139.3 381.6 C141.1 381.0 144.6 380.9 146.7 381.6 C148.9 382.2 151.2 383.6 152.0 385.4 C152.8 387.3 152.5 390.7 151.5 392.7 C150.4 394.6 147.7 396.5 145.5 397.0 C143.2 397.6 139.8 396.9 138.1 395.8 C136.3 394.7 135.4 392.0 134.9 390.3 C134.5 388.6 134.8 386.8 135.5 385.3Z" fill="#F7B870" /><path d="M137.0 386.0 C137.6 384.8 138.5 383.5 140.0 383.0 C141.5 382.5 144.2 382.5 146.0 383.0 C147.8 383.5 149.8 384.5 150.5 386.0 C151.2 387.5 150.9 390.4 150.0 392.0 C149.1 393.6 146.8 395.1 145.0 395.5 C143.2 395.9 140.4 395.4 139.0 394.5 C137.6 393.6 136.8 391.4 136.5 390.0 C136.2 388.6 136.4 387.2 137.0 386.0Z" fill="#FFFDF0" />
<path d="M95.3 400.1 C96.7 398.4 99.8 397.5 102.6 397.2 C105.3 396.8 109.3 397.0 111.9 398.1 C114.5 399.1 117.0 401.2 118.2 403.6 C119.4 406.1 119.7 410.1 119.3 412.8 C118.8 415.6 117.3 418.3 115.5 420.2 C113.6 422.0 110.6 423.6 108.1 423.9 C105.7 424.2 102.8 423.4 100.7 422.2 C98.7 421.0 97.0 419.1 95.9 416.7 C94.8 414.2 94.2 410.1 94.1 407.3 C94.0 404.6 93.9 401.8 95.3 400.1Z" fill="#F7B870" /><path d="M96.5 401.2 C97.7 399.7 100.5 399.0 103.0 398.7 C105.5 398.4 108.9 398.6 111.2 399.5 C113.5 400.4 115.7 402.2 116.8 404.4 C117.9 406.6 118.1 410.1 117.7 412.5 C117.3 414.9 116.0 417.4 114.4 419.0 C112.8 420.6 110.1 422.0 107.9 422.3 C105.7 422.6 103.2 421.8 101.4 420.7 C99.6 419.6 98.2 418.0 97.3 415.8 C96.3 413.6 95.8 410.1 95.7 407.7 C95.6 405.3 95.3 402.7 96.5 401.2Z" fill="#FFFDF0" />
<path d="M135.1 395.9 C137.5 395.5 141.8 395.8 143.8 397.1 C145.8 398.4 146.9 401.0 147.2 403.9 C147.5 406.9 146.6 411.1 145.6 414.9 C144.5 418.6 142.8 423.0 140.9 426.3 C139.0 429.6 136.4 432.8 134.0 434.6 C131.6 436.4 128.7 437.2 126.5 437.0 C124.3 436.8 122.1 435.7 121.1 433.3 C120.1 430.9 120.0 426.8 120.6 422.8 C121.2 418.7 123.2 412.9 124.7 409.0 C126.2 405.1 127.9 401.6 129.6 399.4 C131.4 397.3 132.8 396.3 135.1 395.9Z" fill="#F7B870" /><path d="M135.0 397.5 C137.2 397.1 141.2 397.2 143.0 398.5 C144.8 399.8 145.8 402.2 146.0 405.0 C146.2 407.8 145.0 411.7 144.0 415.0 C143.0 418.3 141.7 422.0 140.0 425.0 C138.3 428.0 136.2 431.2 134.0 433.0 C131.8 434.8 129.0 435.7 127.0 435.5 C125.0 435.3 122.8 434.2 122.0 432.0 C121.2 429.8 121.3 425.7 122.0 422.0 C122.7 418.3 124.7 413.5 126.0 410.0 C127.3 406.5 128.5 403.1 130.0 401.0 C131.5 398.9 132.8 397.9 135.0 397.5Z" fill="#FFFDF0" />
<path d="M147.4 443.9 C147.8 442.3 148.8 440.2 150.7 439.1 C152.6 438.0 156.2 437.4 158.9 437.4 C161.7 437.4 165.2 438.2 167.3 439.1 C169.4 439.9 170.9 441.0 171.6 442.7 C172.3 444.5 172.8 448.0 171.5 449.6 C170.2 451.2 166.9 452.0 163.8 452.4 C160.7 452.7 155.5 452.3 152.9 451.7 C150.3 451.0 149.4 449.8 148.5 448.5 C147.6 447.2 147.0 445.4 147.4 443.9Z" fill="#F7B870" /><path d="M149.0 444.0 C149.3 442.7 150.3 440.8 152.0 440.0 C153.7 439.2 156.7 439.0 159.0 439.0 C161.3 439.0 164.2 439.3 166.0 440.0 C167.8 440.7 169.3 441.5 170.0 443.0 C170.7 444.5 171.2 447.7 170.0 449.0 C168.8 450.3 165.7 450.8 163.0 451.0 C160.3 451.2 156.2 451.0 154.0 450.5 C151.8 450.0 150.8 449.1 150.0 448.0 C149.2 446.9 148.7 445.3 149.0 444.0Z" fill="#FFFDF0" />
<path d="M10.9 411.8 C12.2 409.3 16.3 409.9 18.3 410.4 C20.3 411.0 22.2 413.1 22.9 415.2 C23.6 417.3 23.2 421.2 22.2 423.0 C21.2 424.8 18.9 425.7 17.0 426.1 C15.1 426.5 11.9 427.6 10.9 425.2 C9.9 422.8 9.7 414.3 10.9 411.8Z" fill="#F7B870" /><path d="M12.0 413.0 C13.0 411.0 16.4 411.5 18.0 412.0 C19.6 412.5 21.0 414.3 21.5 416.0 C22.0 417.7 21.8 420.6 21.0 422.0 C20.2 423.4 18.5 424.2 17.0 424.5 C15.5 424.8 12.8 425.9 12.0 424.0 C11.2 422.1 11.0 415.0 12.0 413.0Z" fill="#FFFDF0" />
<ellipse cx="17" cy="407.3" rx="2.2" ry="2" fill="#100000" />
<ellipse cx="97.8" cy="329" rx="2.3" ry="6" fill="#F9C484" transform="rotate(22 97.8 329)"/>
<ellipse cx="45" cy="381" rx="6" ry="2.2" fill="#F9C484" transform="rotate(-10 45 381)"/>
<ellipse cx="68" cy="401.3" rx="2.3" ry="2.3" fill="#FFF0D0" />
<ellipse cx="83.3" cy="350.3" rx="2.5" ry="2.3" fill="#FCD090" />
<ellipse cx="161.4" cy="337" rx="2.9" ry="4" fill="#FCD090" />
<ellipse cx="153.5" cy="426" rx="2.5" ry="1.9" fill="#FCD090" />
</g>
<line x1="15.4" x2="168.8" y1="357.2" y2="357.2" stroke="#FFC080" stroke-opacity="0.18" stroke-width="0.8"/>
</g>
<circle cx="82.4" cy="301.6" r="7.8" fill="none" stroke="#2EAA2E" stroke-width="1.1"/>
<circle cx="98.6" cy="328.5" r="7.8" fill="none" stroke="#2EAA2E" stroke-width="1.1"/>
<circle cx="46.4" cy="380" r="7.8" fill="none" stroke="#2EAA2E" stroke-width="1.1"/>
<circle cx="125.5" cy="355" r="25.2" fill="none" stroke="#E02020" stroke-width="1.1"/>
<defs><linearGradient id="cb" x1="0" y1="1" x2="0" y2="0"><stop offset="0" stop-color="#000"/><stop offset="0.08" stop-color="#200000"/><stop offset="0.2" stop-color="#601800"/><stop offset="0.35" stop-color="#A84808"/><stop offset="0.5" stop-color="#E07828"/><stop offset="0.65" stop-color="#F0A050"/><stop offset="0.78" stop-color="#F8D098"/><stop offset="0.9" stop-color="#FFF0D8"/><stop offset="1" stop-color="#FFFFFF"/></linearGradient></defs>
<rect x="173.2" y="314.4" width="4.3" height="142.3" fill="url(#cb)"/>
<defs>
<filter id="streak" x="0" y="0" width="100%" height="100%" color-interpolation-filters="sRGB">
<feTurbulence type="fractalNoise" baseFrequency="0.06 0.22" numOctaves="2" seed="11" result="n"/>
<feColorMatrix in="n" type="matrix" values="2.2 0 0 0 -0.6  2.2 0 0 0 -0.6  2.2 0 0 0 -0.6  0 0 0 0 1"/>
<feComponentTransfer>
<feFuncR type="table" tableValues="0.58 0.74 0.85 0.91 0.97 1.0"/>
<feFuncG type="table" tableValues="0.14 0.26 0.40 0.50 0.66 0.86"/>
<feFuncB type="table" tableValues="0.0 0.02 0.08 0.14 0.3 0.55"/>
</feComponentTransfer>
</filter>
<filter id="blc" x="-10%" y="-10%" width="120%" height="120%"><feGaussianBlur stdDeviation="1.0"/></filter>
<radialGradient id="bspot"><stop offset="0" stop-color="#FFFCE8"/><stop offset="0.45" stop-color="#FDE0A0" stop-opacity="0.9"/><stop offset="1" stop-color="#F5B060" stop-opacity="0"/></radialGradient>
<radialGradient id="dspot"><stop offset="0" stop-color="#4A0800"/><stop offset="0.5" stop-color="#8A2000" stop-opacity="0.8"/><stop offset="1" stop-color="#B04010" stop-opacity="0"/></radialGradient>
<clipPath id="cc1"><rect x="328.9" y="43.3" width="91.8" height="176.7"/></clipPath>
<clipPath id="cc2"><rect x="426.5" y="48.1" width="127.9" height="76.8"/></clipPath>
<clipPath id="cc3"><rect x="425.8" y="138.1" width="129.1" height="73.8"/></clipPath>
</defs>
<g clip-path="url(#cc1)"><rect x="328.9" y="43.3" width="91.80000000000001" height="176.7" fill="#D46A20" filter="url(#streak)"/>
<g filter="url(#blc)">
<path d="M326 92 L338 100 L360 79 L382 100 L404 79 L424 98" stroke="#7A1A00" stroke-width="2.8" fill="none" stroke-opacity="0.6"/>
<path d="M328.6 92 L340.6 100 L362.6 79 L384.6 100 L406.6 79 L426.6 98" stroke="#FFE0A0" stroke-width="2.8" fill="none" stroke-opacity="0.7"/>
<path d="M326 128 L348 142 L368 116 L388 140 L410 120 L424 133" stroke="#7A1A00" stroke-width="2.8" fill="none" stroke-opacity="0.6"/>
<path d="M328.6 128 L350.6 142 L370.6 116 L390.6 140 L412.6 120 L426.6 133" stroke="#FFE0A0" stroke-width="2.8" fill="none" stroke-opacity="0.7"/>
<path d="M326 165 L350 152 L370 174 L387 152 L408 175 L424 158" stroke="#7A1A00" stroke-width="2.8" fill="none" stroke-opacity="0.6"/>
<path d="M328.6 165 L352.6 152 L372.6 174 L389.6 152 L410.6 175 L426.6 158" stroke="#FFE0A0" stroke-width="2.8" fill="none" stroke-opacity="0.7"/>
<path d="M326 200 L340 188 L356 206 L372 188 L388 206 L404 188 L424 204" stroke="#7A1A00" stroke-width="2.8" fill="none" stroke-opacity="0.6"/>
<path d="M328.6 200 L342.6 188 L358.6 206 L374.6 188 L390.6 206 L406.6 188 L426.6 204" stroke="#FFE0A0" stroke-width="2.8" fill="none" stroke-opacity="0.7"/>
<path d="M396 43 L421 80" stroke="#7A1E00" stroke-width="2.6" fill="none" stroke-opacity="0.6"/>
<path d="M392 45 L418 84" stroke="#FFE0A0" stroke-width="2.6" fill="none" stroke-opacity="0.7"/>
<circle cx="368" cy="121" r="2.6" fill="#FFF4D8"/>
<circle cx="409" cy="54" r="2" fill="#FFE8C0"/>
</g></g>
<text x="333.5" y="56.6" font-size="9.2" font-weight="bold" fill="#111" font-family='"Liberation Sans", sans-serif' textLength="43.5" lengthAdjust="spacingAndGlyphs">I<tspan font-size="6" dy="2">T</tspan><tspan dy="-2">=0.4nA,</tspan></text>
<text x="333.5" y="70.2" font-size="9.4" font-weight="bold" fill="#111" font-family='"Liberation Sans", sans-serif' textLength="47" lengthAdjust="spacingAndGlyphs">V<tspan font-size="6.6" dy="2.2">Bias</tspan><tspan dy="-2.2">=1.0V</tspan></text>
<text x="344.7" y="108.2" font-size="11.3" font-weight="bold" fill="#111" stroke="#111" stroke-width="0.25" font-family='"Liberation Sans", sans-serif' textLength="35.6" lengthAdjust="spacingAndGlyphs">2.6nm</text>
<text x="337.3" y="183.2" font-size="12.3" fill="#111" font-family='"Liberation Serif", serif' textLength="32.3" lengthAdjust="spacingAndGlyphs">2.0nm</text>
<path d="M337 187.6 H386 M337 186 V189 M349 186.5 V188.6 M361 186.5 V188.6 M373 186.5 V188.6 M386 186 V189" stroke="#333" stroke-width="0.6" fill="none" opacity="0.7"/>
<path d="M381.8 85.5 L396 122.3" stroke="#F01818" stroke-width="1.4"/>
<path d="M381.3 84.1 L380.3 89.6 L384.3 88.1Z M396.3 123.5 L397.3 118 L393.3 119.5Z" fill="#F01818"/>
<text x="345.5" y="38" font-size="12.6" fill="#222" font-family='"Liberation Sans", sans-serif' textLength="48" lengthAdjust="spacingAndGlyphs">α-MoTe<tspan font-size="8.2" dy="2.6">2</tspan></text>
<g clip-path="url(#cc2)"><rect x="426.5" y="48.1" width="127.89999999999998" height="76.80000000000001" fill="#DC6E20"/>
<ellipse cx="432.1" cy="50.7" rx="6" ry="4.6" fill="url(#dspot)" opacity="0.45"/>
<ellipse cx="448.1" cy="50.2" rx="6" ry="4.6" fill="url(#dspot)" opacity="0.45"/>
<ellipse cx="464.1" cy="49.7" rx="6" ry="4.6" fill="url(#dspot)" opacity="0.45"/>
<ellipse cx="480.1" cy="49.2" rx="6" ry="4.6" fill="url(#dspot)" opacity="0.45"/>
<ellipse cx="496.1" cy="48.7" rx="6" ry="4.6" fill="url(#dspot)" opacity="0.45"/>
<ellipse cx="512.1" cy="48.2" rx="6" ry="4.6" fill="url(#dspot)" opacity="0.45"/>
<ellipse cx="528.1" cy="47.7" rx="6" ry="4.6" fill="url(#dspot)" opacity="0.45"/>
<ellipse cx="424.1" cy="65.0" rx="6" ry="4.6" fill="url(#dspot)" opacity="0.45"/>
<ellipse cx="440.1" cy="64.5" rx="6" ry="4.6" fill="url(#dspot)" opacity="0.45"/>
<ellipse cx="456.1" cy="64.0" rx="6" ry="4.6" fill="url(#dspot)" opacity="0.45"/>
<ellipse cx="472.1" cy="63.5" rx="6" ry="4.6" fill="url(#dspot)" opacity="0.45"/>
<ellipse cx="488.1" cy="63.0" rx="6" ry="4.6" fill="url(#dspot)" opacity="0.45"/>
<ellipse cx="504.1" cy="62.5" rx="6" ry="4.6" fill="url(#dspot)" opacity="0.45"/>
<ellipse cx="520.1" cy="62.0" rx="6" ry="4.6" fill="url(#dspot)" opacity="0.45"/>
<ellipse cx="536.1" cy="61.5" rx="6" ry="4.6" fill="url(#dspot)" opacity="0.45"/>
<ellipse cx="552.1" cy="61.0" rx="6" ry="4.6" fill="url(#dspot)" opacity="0.45"/>
<ellipse cx="432.1" cy="78.8" rx="6" ry="4.6" fill="url(#dspot)" opacity="0.61"/>
<ellipse cx="448.1" cy="78.3" rx="6" ry="4.6" fill="url(#dspot)" opacity="0.60"/>
<ellipse cx="464.1" cy="77.8" rx="6" ry="4.6" fill="url(#dspot)" opacity="0.59"/>
<ellipse cx="480.1" cy="77.3" rx="6" ry="4.6" fill="url(#dspot)" opacity="0.58"/>
<ellipse cx="496.1" cy="76.8" rx="6" ry="4.6" fill="url(#dspot)" opacity="0.57"/>
<ellipse cx="512.1" cy="76.3" rx="6" ry="4.6" fill="url(#dspot)" opacity="0.57"/>
<ellipse cx="528.1" cy="75.8" rx="6" ry="4.6" fill="url(#dspot)" opacity="0.56"/>
<ellipse cx="544.1" cy="75.3" rx="6" ry="4.6" fill="url(#dspot)" opacity="0.55"/>
<ellipse cx="560.1" cy="74.8" rx="6" ry="4.6" fill="url(#dspot)" opacity="0.54"/>
<ellipse cx="424.1" cy="93.1" rx="6" ry="4.6" fill="url(#dspot)" opacity="0.87"/>
<ellipse cx="440.1" cy="92.6" rx="6" ry="4.6" fill="url(#dspot)" opacity="0.86"/>
<ellipse cx="456.1" cy="92.1" rx="6" ry="4.6" fill="url(#dspot)" opacity="0.86"/>
<ellipse cx="472.1" cy="91.6" rx="6" ry="4.6" fill="url(#dspot)" opacity="0.85"/>
<ellipse cx="488.1" cy="91.1" rx="6" ry="4.6" fill="url(#dspot)" opacity="0.84"/>
<ellipse cx="504.1" cy="90.6" rx="6" ry="4.6" fill="url(#dspot)" opacity="0.83"/>
<ellipse cx="520.1" cy="90.1" rx="6" ry="4.6" fill="url(#dspot)" opacity="0.82"/>
<ellipse cx="536.1" cy="89.6" rx="6" ry="4.6" fill="url(#dspot)" opacity="0.81"/>
<ellipse cx="552.1" cy="89.1" rx="6" ry="4.6" fill="url(#dspot)" opacity="0.80"/>
<ellipse cx="432.1" cy="106.9" rx="6" ry="4.6" fill="url(#dspot)" opacity="1.00"/>
<ellipse cx="448.1" cy="106.4" rx="6" ry="4.6" fill="url(#dspot)" opacity="1.00"/>
<ellipse cx="464.1" cy="105.9" rx="6" ry="4.6" fill="url(#dspot)" opacity="1.00"/>
<ellipse cx="480.1" cy="105.4" rx="6" ry="4.6" fill="url(#dspot)" opacity="1.00"/>
<ellipse cx="496.1" cy="104.9" rx="6" ry="4.6" fill="url(#dspot)" opacity="1.00"/>
<ellipse cx="512.1" cy="104.4" rx="6" ry="4.6" fill="url(#dspot)" opacity="1.00"/>
<ellipse cx="528.1" cy="103.9" rx="6" ry="4.6" fill="url(#dspot)" opacity="1.00"/>
<ellipse cx="544.1" cy="103.4" rx="6" ry="4.6" fill="url(#dspot)" opacity="1.00"/>
<ellipse cx="560.1" cy="102.9" rx="6" ry="4.6" fill="url(#dspot)" opacity="1.00"/>
<ellipse cx="424.1" cy="121.2" rx="6" ry="4.6" fill="url(#dspot)" opacity="1.00"/>
<ellipse cx="440.1" cy="120.7" rx="6" ry="4.6" fill="url(#dspot)" opacity="1.00"/>
<ellipse cx="456.1" cy="120.2" rx="6" ry="4.6" fill="url(#dspot)" opacity="1.00"/>
<ellipse cx="472.1" cy="119.7" rx="6" ry="4.6" fill="url(#dspot)" opacity="1.00"/>
<ellipse cx="488.1" cy="119.2" rx="6" ry="4.6" fill="url(#dspot)" opacity="1.00"/>
<ellipse cx="504.1" cy="118.7" rx="6" ry="4.6" fill="url(#dspot)" opacity="1.00"/>
<ellipse cx="520.1" cy="118.2" rx="6" ry="4.6" fill="url(#dspot)" opacity="1.00"/>
<ellipse cx="536.1" cy="117.7" rx="6" ry="4.6" fill="url(#dspot)" opacity="1.00"/>
<ellipse cx="552.1" cy="117.2" rx="6" ry="4.6" fill="url(#dspot)" opacity="1.00"/>
<ellipse cx="432.1" cy="135.0" rx="6" ry="4.6" fill="url(#dspot)" opacity="1.00"/>
<ellipse cx="448.1" cy="134.5" rx="6" ry="4.6" fill="url(#dspot)" opacity="1.00"/>
<ellipse cx="464.1" cy="134.0" rx="6" ry="4.6" fill="url(#dspot)" opacity="1.00"/>
<ellipse cx="480.1" cy="133.5" rx="6" ry="4.6" fill="url(#dspot)" opacity="1.00"/>
<ellipse cx="496.1" cy="133.0" rx="6" ry="4.6" fill="url(#dspot)" opacity="1.00"/>
<ellipse cx="512.1" cy="132.5" rx="6" ry="4.6" fill="url(#dspot)" opacity="1.00"/>
<ellipse cx="528.1" cy="132.0" rx="6" ry="4.6" fill="url(#dspot)" opacity="1.00"/>
<ellipse cx="544.1" cy="131.5" rx="6" ry="4.6" fill="url(#dspot)" opacity="1.00"/>
<ellipse cx="560.1" cy="131.0" rx="6" ry="4.6" fill="url(#dspot)" opacity="1.00"/>
<ellipse cx="432.1" cy="41.4" rx="7.2" ry="6.2" fill="url(#bspot)" opacity="0.35"/>
<ellipse cx="448.1" cy="40.9" rx="7.2" ry="6.2" fill="url(#bspot)" opacity="0.35"/>
<ellipse cx="464.1" cy="40.4" rx="7.2" ry="6.2" fill="url(#bspot)" opacity="0.35"/>
<ellipse cx="480.1" cy="39.9" rx="7.2" ry="6.2" fill="url(#bspot)" opacity="0.35"/>
<ellipse cx="496.1" cy="39.4" rx="7.2" ry="6.2" fill="url(#bspot)" opacity="0.35"/>
<ellipse cx="512.1" cy="38.9" rx="7.2" ry="6.2" fill="url(#bspot)" opacity="1"/>
<ellipse cx="528.1" cy="38.4" rx="7.2" ry="6.2" fill="url(#bspot)" opacity="1"/>
<ellipse cx="424.1" cy="55.7" rx="7.2" ry="6.2" fill="url(#bspot)" opacity="0.35"/>
<ellipse cx="440.1" cy="55.2" rx="7.2" ry="6.2" fill="url(#bspot)" opacity="0.35"/>
<ellipse cx="456.1" cy="54.7" rx="7.2" ry="6.2" fill="url(#bspot)" opacity="0.35"/>
<ellipse cx="472.1" cy="54.2" rx="7.2" ry="6.2" fill="url(#bspot)" opacity="0.35"/>
<ellipse cx="488.1" cy="53.7" rx="7.2" ry="6.2" fill="url(#bspot)" opacity="0.35"/>
<ellipse cx="504.1" cy="53.2" rx="7.2" ry="6.2" fill="url(#bspot)" opacity="1"/>
<ellipse cx="520.1" cy="52.7" rx="7.2" ry="6.2" fill="url(#bspot)" opacity="1"/>
<ellipse cx="536.1" cy="52.2" rx="7.2" ry="6.2" fill="url(#bspot)" opacity="1"/>
<ellipse cx="552.1" cy="51.7" rx="7.2" ry="6.2" fill="url(#bspot)" opacity="1"/>
<ellipse cx="432.1" cy="69.5" rx="7.2" ry="6.2" fill="url(#bspot)" opacity="1"/>
<ellipse cx="448.1" cy="69.0" rx="7.2" ry="6.2" fill="url(#bspot)" opacity="1"/>
<ellipse cx="464.1" cy="68.5" rx="7.2" ry="6.2" fill="url(#bspot)" opacity="1"/>
<ellipse cx="480.1" cy="68.0" rx="7.2" ry="6.2" fill="url(#bspot)" opacity="1"/>
<ellipse cx="496.1" cy="67.5" rx="7.2" ry="6.2" fill="url(#bspot)" opacity="1"/>
<ellipse cx="512.1" cy="67.0" rx="7.2" ry="6.2" fill="url(#bspot)" opacity="1"/>
<ellipse cx="528.1" cy="66.5" rx="7.2" ry="6.2" fill="url(#bspot)" opacity="1"/>
<ellipse cx="544.1" cy="66.0" rx="7.2" ry="6.2" fill="url(#bspot)" opacity="1"/>
<ellipse cx="560.1" cy="65.5" rx="7.2" ry="6.2" fill="url(#bspot)" opacity="1"/>
<ellipse cx="424.1" cy="83.8" rx="7.2" ry="6.2" fill="url(#bspot)" opacity="1"/>
<ellipse cx="440.1" cy="83.3" rx="7.2" ry="6.2" fill="url(#bspot)" opacity="1"/>
<ellipse cx="456.1" cy="82.8" rx="7.2" ry="6.2" fill="url(#bspot)" opacity="1"/>
<ellipse cx="472.1" cy="82.3" rx="7.2" ry="6.2" fill="url(#bspot)" opacity="1"/>
<ellipse cx="488.1" cy="81.8" rx="7.2" ry="6.2" fill="url(#bspot)" opacity="1"/>
<ellipse cx="504.1" cy="81.3" rx="7.2" ry="6.2" fill="url(#bspot)" opacity="1"/>
<ellipse cx="520.1" cy="80.8" rx="7.2" ry="6.2" fill="url(#bspot)" opacity="1"/>
<ellipse cx="536.1" cy="80.3" rx="7.2" ry="6.2" fill="url(#bspot)" opacity="1"/>
<ellipse cx="552.1" cy="79.8" rx="7.2" ry="6.2" fill="url(#bspot)" opacity="1"/>
<ellipse cx="432.1" cy="97.6" rx="7.2" ry="6.2" fill="url(#bspot)" opacity="1"/>
<ellipse cx="448.1" cy="97.1" rx="7.2" ry="6.2" fill="url(#bspot)" opacity="1"/>
<ellipse cx="464.1" cy="96.6" rx="7.2" ry="6.2" fill="url(#bspot)" opacity="1"/>
<ellipse cx="480.1" cy="96.1" rx="7.2" ry="6.2" fill="url(#bspot)" opacity="1"/>
<ellipse cx="496.1" cy="95.6" rx="7.2" ry="6.2" fill="url(#bspot)" opacity="1"/>
<ellipse cx="512.1" cy="95.1" rx="7.2" ry="6.2" fill="url(#bspot)" opacity="1"/>
<ellipse cx="528.1" cy="94.6" rx="7.2" ry="6.2" fill="url(#bspot)" opacity="1"/>
<ellipse cx="544.1" cy="94.1" rx="7.2" ry="6.2" fill="url(#bspot)" opacity="1"/>
<ellipse cx="560.1" cy="93.6" rx="7.2" ry="6.2" fill="url(#bspot)" opacity="1"/>
<ellipse cx="424.1" cy="111.9" rx="7.2" ry="6.2" fill="url(#bspot)" opacity="1"/>
<ellipse cx="440.1" cy="111.4" rx="7.2" ry="6.2" fill="url(#bspot)" opacity="1"/>
<ellipse cx="456.1" cy="110.9" rx="7.2" ry="6.2" fill="url(#bspot)" opacity="1"/>
<ellipse cx="472.1" cy="110.4" rx="7.2" ry="6.2" fill="url(#bspot)" opacity="1"/>
<ellipse cx="488.1" cy="109.9" rx="7.2" ry="6.2" fill="url(#bspot)" opacity="1"/>
<ellipse cx="504.1" cy="109.4" rx="7.2" ry="6.2" fill="url(#bspot)" opacity="1"/>
<ellipse cx="520.1" cy="108.9" rx="7.2" ry="6.2" fill="url(#bspot)" opacity="1"/>
<ellipse cx="536.1" cy="108.4" rx="7.2" ry="6.2" fill="url(#bspot)" opacity="1"/>
<ellipse cx="552.1" cy="107.9" rx="7.2" ry="6.2" fill="url(#bspot)" opacity="1"/>
<ellipse cx="432.1" cy="125.7" rx="7.2" ry="6.2" fill="url(#bspot)" opacity="1"/>
<ellipse cx="448.1" cy="125.2" rx="7.2" ry="6.2" fill="url(#bspot)" opacity="1"/>
<ellipse cx="464.1" cy="124.7" rx="7.2" ry="6.2" fill="url(#bspot)" opacity="1"/>
<ellipse cx="480.1" cy="124.2" rx="7.2" ry="6.2" fill="url(#bspot)" opacity="1"/>
<ellipse cx="496.1" cy="123.7" rx="7.2" ry="6.2" fill="url(#bspot)" opacity="1"/>
<ellipse cx="512.1" cy="123.2" rx="7.2" ry="6.2" fill="url(#bspot)" opacity="1"/>
<ellipse cx="528.1" cy="122.7" rx="7.2" ry="6.2" fill="url(#bspot)" opacity="1"/>
<ellipse cx="544.1" cy="122.2" rx="7.2" ry="6.2" fill="url(#bspot)" opacity="1"/>
<ellipse cx="560.1" cy="121.7" rx="7.2" ry="6.2" fill="url(#bspot)" opacity="1"/>
</g>
<text x="433" y="61.6" font-size="11.2" fill="#111" font-family='"Liberation Sans", sans-serif' textLength="47.8" lengthAdjust="spacingAndGlyphs">α-MoTe<tspan font-size="7.5" dy="2.4">2</tspan></text>
<text x="487.6" y="61.5" font-size="10.2" font-weight="bold" fill="#111" font-family='"Liberation Sans", sans-serif' textLength="43.7" lengthAdjust="spacingAndGlyphs">I<tspan font-size="6.4" dy="2">T</tspan><tspan dy="-2">=1.0nA,</tspan></text>
<text x="487.6" y="74.6" font-size="10.2" font-weight="bold" fill="#111" font-family='"Liberation Sans", sans-serif' textLength="52.7" lengthAdjust="spacingAndGlyphs">V<tspan font-size="6.4" dy="2">Bias</tspan><tspan dy="-2">=0.06V</tspan></text>
<text x="443.1" y="116.7" font-size="9.6" fill="#222" font-family='"Liberation Serif", serif' textLength="19.1" lengthAdjust="spacingAndGlyphs">4.2Å</text>
<path d="M443 119.7 H462 M443 118.5 V120.5 M462 118.5 V120.5" stroke="#333" stroke-width="0.6" fill="none" opacity="0.8"/>
<g clip-path="url(#cc3)"><rect x="425.8" y="138.1" width="129.09999999999997" height="73.80000000000001" fill="#E08030"/>
<ellipse cx="427.3" cy="144.4" rx="6" ry="4.2" fill="url(#dspot)" transform="rotate(-11 427.3 144.4)"/>
<ellipse cx="437.9" cy="142.3" rx="6" ry="4.2" fill="url(#dspot)" transform="rotate(-11 437.9 142.3)"/>
<ellipse cx="448.5" cy="140.2" rx="6" ry="4.2" fill="url(#dspot)" transform="rotate(-11 448.5 140.2)"/>
<ellipse cx="418.0" cy="165.8" rx="6" ry="4.2" fill="url(#dspot)" transform="rotate(-11 418.0 165.8)"/>
<ellipse cx="428.6" cy="163.7" rx="6" ry="4.2" fill="url(#dspot)" transform="rotate(-11 428.6 163.7)"/>
<ellipse cx="439.2" cy="161.5" rx="6" ry="4.2" fill="url(#dspot)" transform="rotate(-11 439.2 161.5)"/>
<ellipse cx="449.8" cy="159.4" rx="6" ry="4.2" fill="url(#dspot)" transform="rotate(-11 449.8 159.4)"/>
<ellipse cx="460.4" cy="157.3" rx="6" ry="4.2" fill="url(#dspot)" transform="rotate(-11 460.4 157.3)"/>
<ellipse cx="471.0" cy="155.2" rx="6" ry="4.2" fill="url(#dspot)" transform="rotate(-11 471.0 155.2)"/>
<ellipse cx="481.6" cy="153.1" rx="6" ry="4.2" fill="url(#dspot)" transform="rotate(-11 481.6 153.1)"/>
<ellipse cx="492.2" cy="150.9" rx="6" ry="4.2" fill="url(#dspot)" transform="rotate(-11 492.2 150.9)"/>
<ellipse cx="502.8" cy="148.8" rx="6" ry="4.2" fill="url(#dspot)" transform="rotate(-11 502.8 148.8)"/>
<ellipse cx="513.4" cy="146.7" rx="6" ry="4.2" fill="url(#dspot)" transform="rotate(-11 513.4 146.7)"/>
<ellipse cx="524.0" cy="144.6" rx="6" ry="4.2" fill="url(#dspot)" transform="rotate(-11 524.0 144.6)"/>
<ellipse cx="534.6" cy="142.5" rx="6" ry="4.2" fill="url(#dspot)" transform="rotate(-11 534.6 142.5)"/>
<ellipse cx="545.2" cy="140.3" rx="6" ry="4.2" fill="url(#dspot)" transform="rotate(-11 545.2 140.3)"/>
<ellipse cx="419.3" cy="185.0" rx="6" ry="4.2" fill="url(#dspot)" transform="rotate(-11 419.3 185.0)"/>
<ellipse cx="429.9" cy="182.9" rx="6" ry="4.2" fill="url(#dspot)" transform="rotate(-11 429.9 182.9)"/>
<ellipse cx="440.5" cy="180.8" rx="6" ry="4.2" fill="url(#dspot)" transform="rotate(-11 440.5 180.8)"/>
<ellipse cx="451.1" cy="178.7" rx="6" ry="4.2" fill="url(#dspot)" transform="rotate(-11 451.1 178.7)"/>
<ellipse cx="461.7" cy="176.5" rx="6" ry="4.2" fill="url(#dspot)" transform="rotate(-11 461.7 176.5)"/>
<ellipse cx="472.3" cy="174.4" rx="6" ry="4.2" fill="url(#dspot)" transform="rotate(-11 472.3 174.4)"/>
<ellipse cx="482.9" cy="172.3" rx="6" ry="4.2" fill="url(#dspot)" transform="rotate(-11 482.9 172.3)"/>
<ellipse cx="493.5" cy="170.2" rx="6" ry="4.2" fill="url(#dspot)" transform="rotate(-11 493.5 170.2)"/>
<ellipse cx="504.1" cy="168.1" rx="6" ry="4.2" fill="url(#dspot)" transform="rotate(-11 504.1 168.1)"/>
<ellipse cx="514.7" cy="165.9" rx="6" ry="4.2" fill="url(#dspot)" transform="rotate(-11 514.7 165.9)"/>
<ellipse cx="525.3" cy="163.8" rx="6" ry="4.2" fill="url(#dspot)" transform="rotate(-11 525.3 163.8)"/>
<ellipse cx="535.9" cy="161.7" rx="6" ry="4.2" fill="url(#dspot)" transform="rotate(-11 535.9 161.7)"/>
<ellipse cx="546.5" cy="159.6" rx="6" ry="4.2" fill="url(#dspot)" transform="rotate(-11 546.5 159.6)"/>
<ellipse cx="557.1" cy="157.5" rx="6" ry="4.2" fill="url(#dspot)" transform="rotate(-11 557.1 157.5)"/>
<ellipse cx="420.6" cy="204.3" rx="6" ry="4.2" fill="url(#dspot)" transform="rotate(-11 420.6 204.3)"/>
<ellipse cx="431.2" cy="202.1" rx="6" ry="4.2" fill="url(#dspot)" transform="rotate(-11 431.2 202.1)"/>
<ellipse cx="441.8" cy="200.0" rx="6" ry="4.2" fill="url(#dspot)" transform="rotate(-11 441.8 200.0)"/>
<ellipse cx="452.4" cy="197.9" rx="6" ry="4.2" fill="url(#dspot)" transform="rotate(-11 452.4 197.9)"/>
<ellipse cx="463.0" cy="195.8" rx="6" ry="4.2" fill="url(#dspot)" transform="rotate(-11 463.0 195.8)"/>
<ellipse cx="473.6" cy="193.7" rx="6" ry="4.2" fill="url(#dspot)" transform="rotate(-11 473.6 193.7)"/>
<ellipse cx="484.2" cy="191.5" rx="6" ry="4.2" fill="url(#dspot)" transform="rotate(-11 484.2 191.5)"/>
<ellipse cx="494.8" cy="189.4" rx="6" ry="4.2" fill="url(#dspot)" transform="rotate(-11 494.8 189.4)"/>
<ellipse cx="505.4" cy="187.3" rx="6" ry="4.2" fill="url(#dspot)" transform="rotate(-11 505.4 187.3)"/>
<ellipse cx="516.0" cy="185.2" rx="6" ry="4.2" fill="url(#dspot)" transform="rotate(-11 516.0 185.2)"/>
<ellipse cx="526.6" cy="183.1" rx="6" ry="4.2" fill="url(#dspot)" transform="rotate(-11 526.6 183.1)"/>
<ellipse cx="537.2" cy="180.9" rx="6" ry="4.2" fill="url(#dspot)" transform="rotate(-11 537.2 180.9)"/>
<ellipse cx="547.8" cy="178.8" rx="6" ry="4.2" fill="url(#dspot)" transform="rotate(-11 547.8 178.8)"/>
<ellipse cx="558.4" cy="176.7" rx="6" ry="4.2" fill="url(#dspot)" transform="rotate(-11 558.4 176.7)"/>
<ellipse cx="421.9" cy="223.5" rx="6" ry="4.2" fill="url(#dspot)" transform="rotate(-11 421.9 223.5)"/>
<ellipse cx="432.5" cy="221.4" rx="6" ry="4.2" fill="url(#dspot)" transform="rotate(-11 432.5 221.4)"/>
<ellipse cx="443.1" cy="219.3" rx="6" ry="4.2" fill="url(#dspot)" transform="rotate(-11 443.1 219.3)"/>
<ellipse cx="453.7" cy="217.1" rx="6" ry="4.2" fill="url(#dspot)" transform="rotate(-11 453.7 217.1)"/>
<ellipse cx="464.3" cy="215.0" rx="6" ry="4.2" fill="url(#dspot)" transform="rotate(-11 464.3 215.0)"/>
<ellipse cx="474.9" cy="212.9" rx="6" ry="4.2" fill="url(#dspot)" transform="rotate(-11 474.9 212.9)"/>
<ellipse cx="485.5" cy="210.8" rx="6" ry="4.2" fill="url(#dspot)" transform="rotate(-11 485.5 210.8)"/>
<ellipse cx="496.1" cy="208.7" rx="6" ry="4.2" fill="url(#dspot)" transform="rotate(-11 496.1 208.7)"/>
<ellipse cx="506.7" cy="206.5" rx="6" ry="4.2" fill="url(#dspot)" transform="rotate(-11 506.7 206.5)"/>
<ellipse cx="517.3" cy="204.4" rx="6" ry="4.2" fill="url(#dspot)" transform="rotate(-11 517.3 204.4)"/>
<ellipse cx="527.9" cy="202.3" rx="6" ry="4.2" fill="url(#dspot)" transform="rotate(-11 527.9 202.3)"/>
<ellipse cx="538.5" cy="200.2" rx="6" ry="4.2" fill="url(#dspot)" transform="rotate(-11 538.5 200.2)"/>
<ellipse cx="549.1" cy="198.1" rx="6" ry="4.2" fill="url(#dspot)" transform="rotate(-11 549.1 198.1)"/>
<ellipse cx="559.7" cy="195.9" rx="6" ry="4.2" fill="url(#dspot)" transform="rotate(-11 559.7 195.9)"/>
<ellipse cx="476.2" cy="232.1" rx="6" ry="4.2" fill="url(#dspot)" transform="rotate(-11 476.2 232.1)"/>
<ellipse cx="486.8" cy="230.0" rx="6" ry="4.2" fill="url(#dspot)" transform="rotate(-11 486.8 230.0)"/>
<ellipse cx="497.4" cy="227.9" rx="6" ry="4.2" fill="url(#dspot)" transform="rotate(-11 497.4 227.9)"/>
<ellipse cx="508.0" cy="225.8" rx="6" ry="4.2" fill="url(#dspot)" transform="rotate(-11 508.0 225.8)"/>
<ellipse cx="518.6" cy="223.7" rx="6" ry="4.2" fill="url(#dspot)" transform="rotate(-11 518.6 223.7)"/>
<ellipse cx="529.2" cy="221.5" rx="6" ry="4.2" fill="url(#dspot)" transform="rotate(-11 529.2 221.5)"/>
<ellipse cx="539.8" cy="219.4" rx="6" ry="4.2" fill="url(#dspot)" transform="rotate(-11 539.8 219.4)"/>
<ellipse cx="550.4" cy="217.3" rx="6" ry="4.2" fill="url(#dspot)" transform="rotate(-11 550.4 217.3)"/>
<ellipse cx="561.0" cy="215.2" rx="6" ry="4.2" fill="url(#dspot)" transform="rotate(-11 561.0 215.2)"/>
<ellipse cx="429.3" cy="137.9" rx="5.5" ry="3.6" fill="url(#bspot)" opacity="0.45" transform="rotate(-11 429.3 137.9)"/>
<ellipse cx="439.9" cy="135.8" rx="5.5" ry="3.6" fill="url(#bspot)" opacity="0.45" transform="rotate(-11 439.9 135.8)"/>
<ellipse cx="450.5" cy="133.7" rx="5.5" ry="3.6" fill="url(#bspot)" opacity="0.45" transform="rotate(-11 450.5 133.7)"/>
<ellipse cx="420.0" cy="159.3" rx="5.5" ry="3.6" fill="url(#bspot)" opacity="0.45" transform="rotate(-11 420.0 159.3)"/>
<ellipse cx="430.6" cy="157.2" rx="5.5" ry="3.6" fill="url(#bspot)" opacity="0.45" transform="rotate(-11 430.6 157.2)"/>
<ellipse cx="441.2" cy="155.0" rx="5.5" ry="3.6" fill="url(#bspot)" opacity="0.45" transform="rotate(-11 441.2 155.0)"/>
<ellipse cx="451.8" cy="152.9" rx="5.5" ry="3.6" fill="url(#bspot)" opacity="0.45" transform="rotate(-11 451.8 152.9)"/>
<ellipse cx="462.4" cy="150.8" rx="5.5" ry="3.6" fill="url(#bspot)" opacity="0.45" transform="rotate(-11 462.4 150.8)"/>
<ellipse cx="473.0" cy="148.7" rx="5.5" ry="3.6" fill="url(#bspot)" opacity="0.45" transform="rotate(-11 473.0 148.7)"/>
<ellipse cx="483.6" cy="146.6" rx="5.5" ry="3.6" fill="url(#bspot)" opacity="0.45" transform="rotate(-11 483.6 146.6)"/>
<ellipse cx="494.2" cy="144.4" rx="5.5" ry="3.6" fill="url(#bspot)" opacity="0.45" transform="rotate(-11 494.2 144.4)"/>
<ellipse cx="504.8" cy="142.3" rx="5.5" ry="3.6" fill="url(#bspot)" opacity="0.45" transform="rotate(-11 504.8 142.3)"/>
<ellipse cx="515.4" cy="140.2" rx="5.5" ry="3.6" fill="url(#bspot)" opacity="0.45" transform="rotate(-11 515.4 140.2)"/>
<ellipse cx="526.0" cy="138.1" rx="5.5" ry="3.6" fill="url(#bspot)" opacity="0.45" transform="rotate(-11 526.0 138.1)"/>
<ellipse cx="536.6" cy="136.0" rx="5.5" ry="3.6" fill="url(#bspot)" opacity="0.45" transform="rotate(-11 536.6 136.0)"/>
<ellipse cx="547.2" cy="133.8" rx="5.5" ry="3.6" fill="url(#bspot)" opacity="0.45" transform="rotate(-11 547.2 133.8)"/>
<ellipse cx="421.3" cy="178.5" rx="5.5" ry="3.6" fill="url(#bspot)" opacity="0.45" transform="rotate(-11 421.3 178.5)"/>
<ellipse cx="431.9" cy="176.4" rx="5.5" ry="3.6" fill="url(#bspot)" opacity="0.45" transform="rotate(-11 431.9 176.4)"/>
<ellipse cx="442.5" cy="174.3" rx="5.5" ry="3.6" fill="url(#bspot)" opacity="0.45" transform="rotate(-11 442.5 174.3)"/>
<ellipse cx="453.1" cy="172.2" rx="5.5" ry="3.6" fill="url(#bspot)" opacity="0.45" transform="rotate(-11 453.1 172.2)"/>
<ellipse cx="463.7" cy="170.0" rx="5.5" ry="3.6" fill="url(#bspot)" opacity="0.45" transform="rotate(-11 463.7 170.0)"/>
<ellipse cx="474.3" cy="167.9" rx="5.5" ry="3.6" fill="url(#bspot)" opacity="0.45" transform="rotate(-11 474.3 167.9)"/>
<ellipse cx="484.9" cy="165.8" rx="5.5" ry="3.6" fill="url(#bspot)" opacity="0.45" transform="rotate(-11 484.9 165.8)"/>
<ellipse cx="495.5" cy="163.7" rx="5.5" ry="3.6" fill="url(#bspot)" opacity="0.45" transform="rotate(-11 495.5 163.7)"/>
<ellipse cx="506.1" cy="161.6" rx="5.5" ry="3.6" fill="url(#bspot)" opacity="0.45" transform="rotate(-11 506.1 161.6)"/>
<ellipse cx="516.7" cy="159.4" rx="5.5" ry="3.6" fill="url(#bspot)" opacity="0.45" transform="rotate(-11 516.7 159.4)"/>
<ellipse cx="527.3" cy="157.3" rx="5.5" ry="3.6" fill="url(#bspot)" opacity="0.45" transform="rotate(-11 527.3 157.3)"/>
<ellipse cx="537.9" cy="155.2" rx="5.5" ry="3.6" fill="url(#bspot)" opacity="0.45" transform="rotate(-11 537.9 155.2)"/>
<ellipse cx="548.5" cy="153.1" rx="5.5" ry="3.6" fill="url(#bspot)" opacity="0.45" transform="rotate(-11 548.5 153.1)"/>
<ellipse cx="559.1" cy="151.0" rx="5.5" ry="3.6" fill="url(#bspot)" opacity="0.45" transform="rotate(-11 559.1 151.0)"/>
<ellipse cx="422.6" cy="197.8" rx="5.5" ry="3.6" fill="url(#bspot)" opacity="0.45" transform="rotate(-11 422.6 197.8)"/>
<ellipse cx="433.2" cy="195.6" rx="5.5" ry="3.6" fill="url(#bspot)" opacity="0.45" transform="rotate(-11 433.2 195.6)"/>
<ellipse cx="443.8" cy="193.5" rx="5.5" ry="3.6" fill="url(#bspot)" opacity="0.45" transform="rotate(-11 443.8 193.5)"/>
<ellipse cx="454.4" cy="191.4" rx="5.5" ry="3.6" fill="url(#bspot)" opacity="0.45" transform="rotate(-11 454.4 191.4)"/>
<ellipse cx="465.0" cy="189.3" rx="5.5" ry="3.6" fill="url(#bspot)" opacity="0.45" transform="rotate(-11 465.0 189.3)"/>
<ellipse cx="475.6" cy="187.2" rx="5.5" ry="3.6" fill="url(#bspot)" opacity="0.45" transform="rotate(-11 475.6 187.2)"/>
<ellipse cx="486.2" cy="185.0" rx="5.5" ry="3.6" fill="url(#bspot)" opacity="0.45" transform="rotate(-11 486.2 185.0)"/>
<ellipse cx="496.8" cy="182.9" rx="5.5" ry="3.6" fill="url(#bspot)" opacity="0.45" transform="rotate(-11 496.8 182.9)"/>
<ellipse cx="507.4" cy="180.8" rx="5.5" ry="3.6" fill="url(#bspot)" opacity="0.45" transform="rotate(-11 507.4 180.8)"/>
<ellipse cx="518.0" cy="178.7" rx="5.5" ry="3.6" fill="url(#bspot)" opacity="0.45" transform="rotate(-11 518.0 178.7)"/>
<ellipse cx="528.6" cy="176.6" rx="5.5" ry="3.6" fill="url(#bspot)" opacity="0.45" transform="rotate(-11 528.6 176.6)"/>
<ellipse cx="539.2" cy="174.4" rx="5.5" ry="3.6" fill="url(#bspot)" opacity="0.45" transform="rotate(-11 539.2 174.4)"/>
<ellipse cx="549.8" cy="172.3" rx="5.5" ry="3.6" fill="url(#bspot)" opacity="0.45" transform="rotate(-11 549.8 172.3)"/>
<ellipse cx="560.4" cy="170.2" rx="5.5" ry="3.6" fill="url(#bspot)" opacity="0.45" transform="rotate(-11 560.4 170.2)"/>
<ellipse cx="423.9" cy="217.0" rx="5.5" ry="3.6" fill="url(#bspot)" opacity="0.45" transform="rotate(-11 423.9 217.0)"/>
<ellipse cx="434.5" cy="214.9" rx="5.5" ry="3.6" fill="url(#bspot)" opacity="0.45" transform="rotate(-11 434.5 214.9)"/>
<ellipse cx="445.1" cy="212.8" rx="5.5" ry="3.6" fill="url(#bspot)" opacity="0.45" transform="rotate(-11 445.1 212.8)"/>
<ellipse cx="455.7" cy="210.6" rx="5.5" ry="3.6" fill="url(#bspot)" opacity="0.45" transform="rotate(-11 455.7 210.6)"/>
<ellipse cx="466.3" cy="208.5" rx="5.5" ry="3.6" fill="url(#bspot)" opacity="0.45" transform="rotate(-11 466.3 208.5)"/>
<ellipse cx="476.9" cy="206.4" rx="5.5" ry="3.6" fill="url(#bspot)" opacity="0.45" transform="rotate(-11 476.9 206.4)"/>
<ellipse cx="487.5" cy="204.3" rx="5.5" ry="3.6" fill="url(#bspot)" opacity="0.45" transform="rotate(-11 487.5 204.3)"/>
<ellipse cx="498.1" cy="202.2" rx="5.5" ry="3.6" fill="url(#bspot)" opacity="0.45" transform="rotate(-11 498.1 202.2)"/>
<ellipse cx="508.7" cy="200.0" rx="5.5" ry="3.6" fill="url(#bspot)" opacity="0.45" transform="rotate(-11 508.7 200.0)"/>
<ellipse cx="519.3" cy="197.9" rx="5.5" ry="3.6" fill="url(#bspot)" opacity="0.45" transform="rotate(-11 519.3 197.9)"/>
<ellipse cx="529.9" cy="195.8" rx="5.5" ry="3.6" fill="url(#bspot)" opacity="0.45" transform="rotate(-11 529.9 195.8)"/>
<ellipse cx="540.5" cy="193.7" rx="5.5" ry="3.6" fill="url(#bspot)" opacity="0.45" transform="rotate(-11 540.5 193.7)"/>
<ellipse cx="551.1" cy="191.6" rx="5.5" ry="3.6" fill="url(#bspot)" opacity="0.45" transform="rotate(-11 551.1 191.6)"/>
<ellipse cx="561.7" cy="189.4" rx="5.5" ry="3.6" fill="url(#bspot)" opacity="0.45" transform="rotate(-11 561.7 189.4)"/>
<ellipse cx="478.2" cy="225.6" rx="5.5" ry="3.6" fill="url(#bspot)" opacity="0.45" transform="rotate(-11 478.2 225.6)"/>
<ellipse cx="488.8" cy="223.5" rx="5.5" ry="3.6" fill="url(#bspot)" opacity="0.45" transform="rotate(-11 488.8 223.5)"/>
<ellipse cx="499.4" cy="221.4" rx="5.5" ry="3.6" fill="url(#bspot)" opacity="0.45" transform="rotate(-11 499.4 221.4)"/>
<ellipse cx="510.0" cy="219.3" rx="5.5" ry="3.6" fill="url(#bspot)" opacity="0.45" transform="rotate(-11 510.0 219.3)"/>
<ellipse cx="520.6" cy="217.2" rx="5.5" ry="3.6" fill="url(#bspot)" opacity="0.45" transform="rotate(-11 520.6 217.2)"/>
<ellipse cx="531.2" cy="215.0" rx="5.5" ry="3.6" fill="url(#bspot)" opacity="0.45" transform="rotate(-11 531.2 215.0)"/>
<ellipse cx="541.8" cy="212.9" rx="5.5" ry="3.6" fill="url(#bspot)" opacity="0.45" transform="rotate(-11 541.8 212.9)"/>
<ellipse cx="552.4" cy="210.8" rx="5.5" ry="3.6" fill="url(#bspot)" opacity="0.45" transform="rotate(-11 552.4 210.8)"/>
<ellipse cx="563.0" cy="208.7" rx="5.5" ry="3.6" fill="url(#bspot)" opacity="0.45" transform="rotate(-11 563.0 208.7)"/>
<ellipse cx="427.3" cy="130.9" rx="7" ry="5" fill="url(#bspot)" transform="rotate(-11 427.3 130.9)"/>
<ellipse cx="437.9" cy="128.8" rx="7" ry="5" fill="url(#bspot)" transform="rotate(-11 437.9 128.8)"/>
<ellipse cx="448.5" cy="126.7" rx="7" ry="5" fill="url(#bspot)" transform="rotate(-11 448.5 126.7)"/>
<ellipse cx="418.0" cy="152.3" rx="7" ry="5" fill="url(#bspot)" transform="rotate(-11 418.0 152.3)"/>
<ellipse cx="428.6" cy="150.2" rx="7" ry="5" fill="url(#bspot)" transform="rotate(-11 428.6 150.2)"/>
<ellipse cx="439.2" cy="148.0" rx="7" ry="5" fill="url(#bspot)" transform="rotate(-11 439.2 148.0)"/>
<ellipse cx="449.8" cy="145.9" rx="7" ry="5" fill="url(#bspot)" transform="rotate(-11 449.8 145.9)"/>
<ellipse cx="460.4" cy="143.8" rx="7" ry="5" fill="url(#bspot)" transform="rotate(-11 460.4 143.8)"/>
<ellipse cx="471.0" cy="141.7" rx="7" ry="5" fill="url(#bspot)" transform="rotate(-11 471.0 141.7)"/>
<ellipse cx="481.6" cy="139.6" rx="7" ry="5" fill="url(#bspot)" transform="rotate(-11 481.6 139.6)"/>
<ellipse cx="492.2" cy="137.4" rx="7" ry="5" fill="url(#bspot)" transform="rotate(-11 492.2 137.4)"/>
<ellipse cx="502.8" cy="135.3" rx="7" ry="5" fill="url(#bspot)" transform="rotate(-11 502.8 135.3)"/>
<ellipse cx="513.4" cy="133.2" rx="7" ry="5" fill="url(#bspot)" transform="rotate(-11 513.4 133.2)"/>
<ellipse cx="524.0" cy="131.1" rx="7" ry="5" fill="url(#bspot)" transform="rotate(-11 524.0 131.1)"/>
<ellipse cx="534.6" cy="129.0" rx="7" ry="5" fill="url(#bspot)" transform="rotate(-11 534.6 129.0)"/>
<ellipse cx="545.2" cy="126.8" rx="7" ry="5" fill="url(#bspot)" transform="rotate(-11 545.2 126.8)"/>
<ellipse cx="419.3" cy="171.5" rx="7" ry="5" fill="url(#bspot)" transform="rotate(-11 419.3 171.5)"/>
<ellipse cx="429.9" cy="169.4" rx="7" ry="5" fill="url(#bspot)" transform="rotate(-11 429.9 169.4)"/>
<ellipse cx="440.5" cy="167.3" rx="7" ry="5" fill="url(#bspot)" transform="rotate(-11 440.5 167.3)"/>
<ellipse cx="451.1" cy="165.2" rx="7" ry="5" fill="url(#bspot)" transform="rotate(-11 451.1 165.2)"/>
<ellipse cx="461.7" cy="163.0" rx="7" ry="5" fill="url(#bspot)" transform="rotate(-11 461.7 163.0)"/>
<ellipse cx="472.3" cy="160.9" rx="7" ry="5" fill="url(#bspot)" transform="rotate(-11 472.3 160.9)"/>
<ellipse cx="482.9" cy="158.8" rx="7" ry="5" fill="url(#bspot)" transform="rotate(-11 482.9 158.8)"/>
<ellipse cx="493.5" cy="156.7" rx="7" ry="5" fill="url(#bspot)" transform="rotate(-11 493.5 156.7)"/>
<ellipse cx="504.1" cy="154.6" rx="7" ry="5" fill="url(#bspot)" transform="rotate(-11 504.1 154.6)"/>
<ellipse cx="514.7" cy="152.4" rx="7" ry="5" fill="url(#bspot)" transform="rotate(-11 514.7 152.4)"/>
<ellipse cx="525.3" cy="150.3" rx="7" ry="5" fill="url(#bspot)" transform="rotate(-11 525.3 150.3)"/>
<ellipse cx="535.9" cy="148.2" rx="7" ry="5" fill="url(#bspot)" transform="rotate(-11 535.9 148.2)"/>
<ellipse cx="546.5" cy="146.1" rx="7" ry="5" fill="url(#bspot)" transform="rotate(-11 546.5 146.1)"/>
<ellipse cx="557.1" cy="144.0" rx="7" ry="5" fill="url(#bspot)" transform="rotate(-11 557.1 144.0)"/>
<ellipse cx="420.6" cy="190.8" rx="7" ry="5" fill="url(#bspot)" transform="rotate(-11 420.6 190.8)"/>
<ellipse cx="431.2" cy="188.6" rx="7" ry="5" fill="url(#bspot)" transform="rotate(-11 431.2 188.6)"/>
<ellipse cx="441.8" cy="186.5" rx="7" ry="5" fill="url(#bspot)" transform="rotate(-11 441.8 186.5)"/>
<ellipse cx="452.4" cy="184.4" rx="7" ry="5" fill="url(#bspot)" transform="rotate(-11 452.4 184.4)"/>
<ellipse cx="463.0" cy="182.3" rx="7" ry="5" fill="url(#bspot)" transform="rotate(-11 463.0 182.3)"/>
<ellipse cx="473.6" cy="180.2" rx="7" ry="5" fill="url(#bspot)" transform="rotate(-11 473.6 180.2)"/>
<ellipse cx="484.2" cy="178.0" rx="7" ry="5" fill="url(#bspot)" transform="rotate(-11 484.2 178.0)"/>
<ellipse cx="494.8" cy="175.9" rx="7" ry="5" fill="url(#bspot)" transform="rotate(-11 494.8 175.9)"/>
<ellipse cx="505.4" cy="173.8" rx="7" ry="5" fill="url(#bspot)" transform="rotate(-11 505.4 173.8)"/>
<ellipse cx="516.0" cy="171.7" rx="7" ry="5" fill="url(#bspot)" transform="rotate(-11 516.0 171.7)"/>
<ellipse cx="526.6" cy="169.6" rx="7" ry="5" fill="url(#bspot)" transform="rotate(-11 526.6 169.6)"/>
<ellipse cx="537.2" cy="167.4" rx="7" ry="5" fill="url(#bspot)" transform="rotate(-11 537.2 167.4)"/>
<ellipse cx="547.8" cy="165.3" rx="7" ry="5" fill="url(#bspot)" transform="rotate(-11 547.8 165.3)"/>
<ellipse cx="558.4" cy="163.2" rx="7" ry="5" fill="url(#bspot)" transform="rotate(-11 558.4 163.2)"/>
<ellipse cx="421.9" cy="210.0" rx="7" ry="5" fill="url(#bspot)" transform="rotate(-11 421.9 210.0)"/>
<ellipse cx="432.5" cy="207.9" rx="7" ry="5" fill="url(#bspot)" transform="rotate(-11 432.5 207.9)"/>
<ellipse cx="443.1" cy="205.8" rx="7" ry="5" fill="url(#bspot)" transform="rotate(-11 443.1 205.8)"/>
<ellipse cx="453.7" cy="203.6" rx="7" ry="5" fill="url(#bspot)" transform="rotate(-11 453.7 203.6)"/>
<ellipse cx="464.3" cy="201.5" rx="7" ry="5" fill="url(#bspot)" transform="rotate(-11 464.3 201.5)"/>
<ellipse cx="474.9" cy="199.4" rx="7" ry="5" fill="url(#bspot)" transform="rotate(-11 474.9 199.4)"/>
<ellipse cx="485.5" cy="197.3" rx="7" ry="5" fill="url(#bspot)" transform="rotate(-11 485.5 197.3)"/>
<ellipse cx="496.1" cy="195.2" rx="7" ry="5" fill="url(#bspot)" transform="rotate(-11 496.1 195.2)"/>
<ellipse cx="506.7" cy="193.0" rx="7" ry="5" fill="url(#bspot)" transform="rotate(-11 506.7 193.0)"/>
<ellipse cx="517.3" cy="190.9" rx="7" ry="5" fill="url(#bspot)" transform="rotate(-11 517.3 190.9)"/>
<ellipse cx="527.9" cy="188.8" rx="7" ry="5" fill="url(#bspot)" transform="rotate(-11 527.9 188.8)"/>
<ellipse cx="538.5" cy="186.7" rx="7" ry="5" fill="url(#bspot)" transform="rotate(-11 538.5 186.7)"/>
<ellipse cx="549.1" cy="184.6" rx="7" ry="5" fill="url(#bspot)" transform="rotate(-11 549.1 184.6)"/>
<ellipse cx="559.7" cy="182.4" rx="7" ry="5" fill="url(#bspot)" transform="rotate(-11 559.7 182.4)"/>
<ellipse cx="476.2" cy="218.6" rx="7" ry="5" fill="url(#bspot)" transform="rotate(-11 476.2 218.6)"/>
<ellipse cx="486.8" cy="216.5" rx="7" ry="5" fill="url(#bspot)" transform="rotate(-11 486.8 216.5)"/>
<ellipse cx="497.4" cy="214.4" rx="7" ry="5" fill="url(#bspot)" transform="rotate(-11 497.4 214.4)"/>
<ellipse cx="508.0" cy="212.3" rx="7" ry="5" fill="url(#bspot)" transform="rotate(-11 508.0 212.3)"/>
<ellipse cx="518.6" cy="210.2" rx="7" ry="5" fill="url(#bspot)" transform="rotate(-11 518.6 210.2)"/>
<ellipse cx="529.2" cy="208.0" rx="7" ry="5" fill="url(#bspot)" transform="rotate(-11 529.2 208.0)"/>
<ellipse cx="539.8" cy="205.9" rx="7" ry="5" fill="url(#bspot)" transform="rotate(-11 539.8 205.9)"/>
<ellipse cx="550.4" cy="203.8" rx="7" ry="5" fill="url(#bspot)" transform="rotate(-11 550.4 203.8)"/>
<ellipse cx="561.0" cy="201.7" rx="7" ry="5" fill="url(#bspot)" transform="rotate(-11 561.0 201.7)"/>
</g>
<text x="432.1" y="150.5" font-size="11.2" fill="#111" font-family='"Liberation Sans", sans-serif' textLength="47.5" lengthAdjust="spacingAndGlyphs">β-MoTe<tspan font-size="8" dy="2.5">2</tspan></text>
<text x="500.3" y="151.2" font-size="10.2" font-weight="bold" fill="#111" font-family='"Liberation Sans", sans-serif' textLength="42.7" lengthAdjust="spacingAndGlyphs">I<tspan font-size="6.4" dy="2">T</tspan><tspan dy="-2">=1.0nA,</tspan></text>
<text x="500.3" y="164.2" font-size="10.2" font-weight="bold" fill="#111" font-family='"Liberation Sans", sans-serif' textLength="45.9" lengthAdjust="spacingAndGlyphs">V<tspan font-size="6.4" dy="2">Bias</tspan><tspan dy="-2">=0.9V</tspan></text>
<text x="438.5" y="201.1" font-size="12.5" fill="#111" font-family='"Liberation Serif", serif' textLength="25.3" lengthAdjust="spacingAndGlyphs">8.0Å</text>
<path d="M438 205.1 H464 M438 203.6 V206.6 M444.5 204 V206.2 M451 204 V206.2 M457.5 204 V206.2 M464 203.6 V206.6" stroke="#333" stroke-width="0.6" fill="none" opacity="0.8"/>
<text x="0.6" y="14" font-size="18" font-weight="normal" text-anchor="start" fill="#111" font-family='"Liberation Sans", sans-serif' textLength="13.6" lengthAdjust="spacingAndGlyphs" >a)</text>
<text x="321.7" y="16.9" font-size="17.6" font-weight="normal" text-anchor="start" fill="#111" font-family='"Liberation Sans", sans-serif' textLength="12.4" lengthAdjust="spacingAndGlyphs" >c)</text>
<text x="1.2" y="266.1" font-size="17.6" font-weight="normal" text-anchor="start" fill="#111" font-family='"Liberation Sans", sans-serif' textLength="13.8" lengthAdjust="spacingAndGlyphs" >b)</text>
<text x="233.6" y="267.4" font-size="17.6" font-weight="normal" text-anchor="start" fill="#111" font-family='"Liberation Sans", sans-serif' textLength="14.3" lengthAdjust="spacingAndGlyphs" >d)</text>
<text x="434.4" y="266.7" font-size="18" font-weight="normal" text-anchor="start" fill="#111" font-family='"Liberation Sans", sans-serif' textLength="13.8" lengthAdjust="spacingAndGlyphs" >e)</text>
<text x="18.7" y="34.5" font-size="9.5" font-weight="normal" text-anchor="start" fill="#2a2a2a" font-family='"Liberation Sans", sans-serif' textLength="67.8" lengthAdjust="spacingAndGlyphs" stroke="#2a2a2a" stroke-width="0.15" >Coverage: ~55%</text>
<text x="121" y="35.1" font-size="9.5" font-weight="normal" text-anchor="start" fill="#2a2a2a" font-family='"Liberation Sans", sans-serif' textLength="67.5" lengthAdjust="spacingAndGlyphs" stroke="#2a2a2a" stroke-width="0.15" >Coverage: ~68%</text>
<text x="216" y="35.1" font-size="9.5" font-weight="normal" text-anchor="start" fill="#2a2a2a" font-family='"Liberation Sans", sans-serif' textLength="67.5" lengthAdjust="spacingAndGlyphs" stroke="#2a2a2a" stroke-width="0.15" >Coverage: ~85%</text>
<text x="24.7" y="270" font-size="9.5" font-weight="normal" text-anchor="start" fill="#2a2a2a" font-family='"Liberation Sans", sans-serif' textLength="67" lengthAdjust="spacingAndGlyphs" stroke="#2a2a2a" stroke-width="0.15" >Coverage: ~85%</text>
<text x="47.5" y="55" font-size="11.2" font-weight="bold" text-anchor="start" fill="#111" font-family='"Liberation Sans", sans-serif' textLength="44.5" lengthAdjust="spacingAndGlyphs" stroke="#111" stroke-width="0.3" >110 min</text>
<text x="146.5" y="56" font-size="11.4" font-weight="bold" text-anchor="start" fill="#111" font-family='"Liberation Sans", sans-serif' textLength="45" lengthAdjust="spacingAndGlyphs" stroke="#111" stroke-width="0.3" >150 min</text>
<text x="239" y="56.2" font-size="11.3" font-weight="bold" text-anchor="start" fill="#111" font-family='"Liberation Sans", sans-serif' textLength="45.5" lengthAdjust="spacingAndGlyphs" stroke="#111" stroke-width="0.3" >300 min</text>
<text x="32" y="216" font-size="12.3" font-weight="normal" text-anchor="start" fill="#151515" font-family='"Liberation Sans", sans-serif' textLength="60.5" lengthAdjust="spacingAndGlyphs" stroke="#151515" stroke-width="0.25" >200x110nm</text>
<text x="128.3" y="215" font-size="12.3" font-weight="normal" text-anchor="start" fill="#151515" font-family='"Liberation Sans", sans-serif' textLength="60.4" lengthAdjust="spacingAndGlyphs" stroke="#151515" stroke-width="0.25" >200x110nm</text>
<text x="220.6" y="215" font-size="12.3" font-weight="normal" text-anchor="start" fill="#151515" font-family='"Liberation Sans", sans-serif' textLength="59.8" lengthAdjust="spacingAndGlyphs" stroke="#151515" stroke-width="0.25" >200x110nm</text>
<text x="15.3" y="231.4" font-size="8.9" font-weight="bold" fill="#111" font-family='"Liberation Sans", sans-serif' textLength="74.4" lengthAdjust="spacingAndGlyphs">I<tspan font-size="5.518" dy="1.7800000000000002">T</tspan><tspan dy="-1.7800000000000002">=1.0nA, V</tspan><tspan font-size="5.518" dy="1.7800000000000002">Bias</tspan><tspan dy="-1.7800000000000002">=1.1V</tspan></text>
<text x="116" y="231.4" font-size="8.9" font-weight="bold" fill="#111" font-family='"Liberation Sans", sans-serif' textLength="74.7" lengthAdjust="spacingAndGlyphs">I<tspan font-size="5.518" dy="1.7800000000000002">T</tspan><tspan dy="-1.7800000000000002">=1.0nA, V</tspan><tspan font-size="5.518" dy="1.7800000000000002">Bias</tspan><tspan dy="-1.7800000000000002">=1.1V</tspan></text>
<text x="210.6" y="231.4" font-size="8.9" font-weight="bold" fill="#111" font-family='"Liberation Sans", sans-serif' textLength="75.4" lengthAdjust="spacingAndGlyphs">I<tspan font-size="5.518" dy="1.7800000000000002">T</tspan><tspan dy="-1.7800000000000002">=1.0nA, V</tspan><tspan font-size="5.518" dy="1.7800000000000002">Bias</tspan><tspan dy="-1.7800000000000002">=1.1V</tspan></text>
<text x="19.5" y="471.4" font-size="10" font-weight="bold" fill="#111" font-family='"Liberation Sans", sans-serif' textLength="95" lengthAdjust="spacingAndGlyphs">I<tspan font-size="6.2" dy="2.0">T</tspan><tspan dy="-2.0">=1.0nA, V</tspan><tspan font-size="6.2" dy="2.0">Bias</tspan><tspan dy="-2.0">=0.8V</tspan></text>
<rect x="236.2" y="284.7" width="158.60000000000002" height="166.7" fill="none" stroke="#555" stroke-width="1"/>
<line x1="236.2" x2="394.8" y1="437.40" y2="437.40" stroke="#777" stroke-width="1"/>
<line x1="233.2" x2="236.2" y1="437.40" y2="437.40" stroke="#555" stroke-width="1"/>
<text x="230.7" y="440.29999999999995" font-size="10" font-weight="normal" text-anchor="end" fill="#222" font-family='"Liberation Sans", sans-serif' >0</text>
<line x1="233.2" x2="236.2" y1="410.20" y2="410.20" stroke="#555" stroke-width="1"/>
<text x="230.7" y="413.09999999999997" font-size="10" font-weight="normal" text-anchor="end" fill="#222" font-family='"Liberation Sans", sans-serif' >5</text>
<line x1="233.2" x2="236.2" y1="383.00" y2="383.00" stroke="#555" stroke-width="1"/>
<text x="230.7" y="385.9" font-size="10" font-weight="normal" text-anchor="end" fill="#222" font-family='"Liberation Sans", sans-serif' >10</text>
<line x1="233.2" x2="236.2" y1="355.80" y2="355.80" stroke="#555" stroke-width="1"/>
<text x="230.7" y="358.69999999999993" font-size="10" font-weight="normal" text-anchor="end" fill="#222" font-family='"Liberation Sans", sans-serif' >15</text>
<line x1="233.2" x2="236.2" y1="328.60" y2="328.60" stroke="#555" stroke-width="1"/>
<text x="230.7" y="331.49999999999994" font-size="10" font-weight="normal" text-anchor="end" fill="#222" font-family='"Liberation Sans", sans-serif' >20</text>
<line x1="233.2" x2="236.2" y1="301.40" y2="301.40" stroke="#555" stroke-width="1"/>
<text x="230.7" y="304.29999999999995" font-size="10" font-weight="normal" text-anchor="end" fill="#222" font-family='"Liberation Sans", sans-serif' >25</text>
<line x1="234.7" x2="236.2" y1="451.00" y2="451.00" stroke="#555" stroke-width="1"/>
<line x1="234.7" x2="236.2" y1="423.80" y2="423.80" stroke="#555" stroke-width="1"/>
<line x1="234.7" x2="236.2" y1="396.60" y2="396.60" stroke="#555" stroke-width="1"/>
<line x1="234.7" x2="236.2" y1="369.40" y2="369.40" stroke="#555" stroke-width="1"/>
<line x1="234.7" x2="236.2" y1="342.20" y2="342.20" stroke="#555" stroke-width="1"/>
<line x1="234.7" x2="236.2" y1="315.00" y2="315.00" stroke="#555" stroke-width="1"/>
<line x1="234.7" x2="236.2" y1="287.80" y2="287.80" stroke="#555" stroke-width="1"/>
<line x1="252.10" x2="252.10" y1="451.4" y2="454.7" stroke="#555" stroke-width="1"/>
<text x="251.79999999999998" y="464.4" font-size="10" font-weight="normal" text-anchor="middle" fill="#222" font-family='"Liberation Sans", sans-serif' >-2</text>
<line x1="283.90" x2="283.90" y1="451.4" y2="454.7" stroke="#555" stroke-width="1"/>
<text x="283.59999999999997" y="464.4" font-size="10" font-weight="normal" text-anchor="middle" fill="#222" font-family='"Liberation Sans", sans-serif' >-1</text>
<line x1="315.70" x2="315.70" y1="451.4" y2="454.7" stroke="#555" stroke-width="1"/>
<text x="315.7" y="464.4" font-size="10" font-weight="normal" text-anchor="middle" fill="#222" font-family='"Liberation Sans", sans-serif' >0</text>
<line x1="347.50" x2="347.50" y1="451.4" y2="454.7" stroke="#555" stroke-width="1"/>
<text x="347.5" y="464.4" font-size="10" font-weight="normal" text-anchor="middle" fill="#222" font-family='"Liberation Sans", sans-serif' >1</text>
<line x1="379.30" x2="379.30" y1="451.4" y2="454.7" stroke="#555" stroke-width="1"/>
<text x="379.3" y="464.4" font-size="10" font-weight="normal" text-anchor="middle" fill="#222" font-family='"Liberation Sans", sans-serif' >2</text>
<line x1="236.20" x2="236.20" y1="451.4" y2="453.0" stroke="#555" stroke-width="1"/>
<line x1="268.00" x2="268.00" y1="451.4" y2="453.0" stroke="#555" stroke-width="1"/>
<line x1="299.80" x2="299.80" y1="451.4" y2="453.0" stroke="#555" stroke-width="1"/>
<line x1="331.60" x2="331.60" y1="451.4" y2="453.0" stroke="#555" stroke-width="1"/>
<line x1="363.40" x2="363.40" y1="451.4" y2="453.0" stroke="#555" stroke-width="1"/>
<line x1="395.20" x2="395.20" y1="451.4" y2="453.0" stroke="#555" stroke-width="1"/>
<path d="M252.10 295.42V336.76M250.50 295.42h3.2M250.50 336.76h3.2" stroke="#666" stroke-width="0.8" fill="none"/>
<path d="M258.79 314.18V346.28M257.19 314.18h3.2M257.19 346.28h3.2" stroke="#666" stroke-width="0.8" fill="none"/>
<path d="M265.49 340.02V367.22M263.89 340.02h3.2M263.89 367.22h3.2" stroke="#666" stroke-width="0.8" fill="none"/>
<path d="M272.18 355.26V374.84M270.58 355.26h3.2M270.58 374.84h3.2" stroke="#666" stroke-width="0.8" fill="none"/>
<path d="M278.88 365.86V385.99M277.28 365.86h3.2M277.28 385.99h3.2" stroke="#666" stroke-width="0.8" fill="none"/>
<path d="M285.57 389.80V399.05M283.97 389.80h3.2M283.97 399.05h3.2" stroke="#666" stroke-width="0.8" fill="none"/>
<path d="M292.27 402.86V412.10M290.67 402.86h3.2M290.67 412.10h3.2" stroke="#666" stroke-width="0.8" fill="none"/>
<path d="M298.96 415.37V425.70M297.36 415.37h3.2M297.36 425.70h3.2" stroke="#666" stroke-width="0.8" fill="none"/>
<path d="M305.66 427.61V434.14M304.06 427.61h3.2M304.06 434.14h3.2" stroke="#666" stroke-width="0.8" fill="none"/>
<path d="M312.35 433.86V437.13M310.75 433.86h3.2M310.75 437.13h3.2" stroke="#666" stroke-width="0.8" fill="none"/>
<path d="M319.05 434.68V436.86M317.45 434.68h3.2M317.45 436.86h3.2" stroke="#666" stroke-width="0.8" fill="none"/>
<path d="M325.74 432.50V435.77M324.14 432.50h3.2M324.14 435.77h3.2" stroke="#666" stroke-width="0.8" fill="none"/>
<path d="M332.44 428.15V432.50M330.84 428.15h3.2M330.84 432.50h3.2" stroke="#666" stroke-width="0.8" fill="none"/>
<path d="M339.13 421.62V425.98M337.53 421.62h3.2M337.53 425.98h3.2" stroke="#666" stroke-width="0.8" fill="none"/>
<path d="M345.83 412.92V418.36M344.23 412.92h3.2M344.23 418.36h3.2" stroke="#666" stroke-width="0.8" fill="none"/>
<path d="M352.52 400.95V411.83M350.92 400.95h3.2M350.92 411.83h3.2" stroke="#666" stroke-width="0.8" fill="none"/>
<path d="M359.22 385.45V402.31M357.62 385.45h3.2M357.62 402.31h3.2" stroke="#666" stroke-width="0.8" fill="none"/>
<path d="M365.91 370.22V393.61M364.31 370.22h3.2M364.31 393.61h3.2" stroke="#666" stroke-width="0.8" fill="none"/>
<path d="M372.61 342.74V377.56M371.01 342.74h3.2M371.01 377.56h3.2" stroke="#666" stroke-width="0.8" fill="none"/>
<path d="M379.30 324.52V362.06M377.70 324.52h3.2M377.70 362.06h3.2" stroke="#666" stroke-width="0.8" fill="none"/>
<path d="M252.10 316.09 L252.62 317.12 L253.30 318.41 L254.12 319.95 L255.03 321.70 L255.99 323.63 L256.96 325.71 L257.91 327.92 L258.79 330.23 L259.63 332.80 L260.47 335.71 L261.31 338.85 L262.14 342.10 L262.98 345.32 L263.82 348.40 L264.65 351.21 L265.49 353.62 L266.33 355.63 L267.16 357.33 L268.00 358.81 L268.84 360.12 L269.67 361.33 L270.51 362.51 L271.35 363.73 L272.18 365.05 L273.02 366.38 L273.86 367.63 L274.69 368.83 L275.53 370.05 L276.37 371.31 L277.21 372.69 L278.04 374.21 L278.88 375.93 L279.72 377.91 L280.55 380.14 L281.39 382.55 L282.23 385.04 L283.06 387.55 L283.90 390.00 L284.74 392.32 L285.57 394.42 L286.41 396.32 L287.25 398.07 L288.08 399.72 L288.92 401.29 L289.76 402.82 L290.59 404.34 L291.43 405.89 L292.27 407.48 L293.11 409.13 L293.94 410.81 L294.78 412.50 L295.62 414.18 L296.45 415.84 L297.29 417.46 L298.13 419.03 L298.96 420.54 L299.80 422.00 L300.64 423.45 L301.47 424.86 L302.31 426.23 L303.15 427.53 L303.98 428.75 L304.82 429.87 L305.66 430.87 L306.49 431.75 L307.33 432.53 L308.17 433.22 L309.01 433.81 L309.84 434.33 L310.68 434.78 L311.52 435.17 L312.35 435.50 L313.19 435.75 L314.03 435.91 L314.86 436.00 L315.70 436.02 L316.54 436.00 L317.37 435.94 L318.21 435.85 L319.05 435.77 L319.88 435.67 L320.72 435.54 L321.56 435.39 L322.39 435.21 L323.23 434.99 L324.07 434.74 L324.91 434.46 L325.74 434.14 L326.58 433.78 L327.42 433.40 L328.25 432.99 L329.09 432.54 L329.93 432.05 L330.76 431.52 L331.60 430.95 L332.44 430.33 L333.27 429.65 L334.11 428.93 L334.95 428.15 L335.78 427.34 L336.62 426.49 L337.46 425.61 L338.29 424.71 L339.13 423.80 L339.97 422.87 L340.81 421.90 L341.64 420.91 L342.48 419.89 L343.32 418.85 L344.15 417.79 L344.99 416.72 L345.83 415.64 L346.66 414.56 L347.50 413.48 L348.34 412.40 L349.17 411.29 L350.01 410.15 L350.85 408.96 L351.68 407.71 L352.52 406.39 L353.36 404.98 L354.19 403.48 L355.03 401.92 L355.87 400.31 L356.71 398.68 L357.54 397.05 L358.38 395.44 L359.22 393.88 L360.05 392.42 L360.89 391.08 L361.73 389.78 L362.56 388.47 L363.40 387.09 L364.24 385.58 L365.07 383.87 L365.91 381.91 L366.75 379.63 L367.58 377.05 L368.42 374.25 L369.26 371.34 L370.09 368.38 L370.93 365.48 L371.77 362.70 L372.61 360.15 L373.49 357.69 L374.44 355.20 L375.41 352.73 L376.37 350.36 L377.28 348.16 L378.10 346.20 L378.78 344.56 L379.30 343.29" stroke="#111" stroke-width="2" fill="none" stroke-linejoin="round" stroke-linecap="round"/>
<text x="281" y="476" font-size="10.6" font-weight="normal" text-anchor="start" fill="#222" font-family='"Liberation Sans", sans-serif' textLength="68.4" lengthAdjust="spacingAndGlyphs" >Sample bias(V)</text>
<text transform="translate(215.5,364) rotate(-90)" x="0" y="0" text-anchor="middle" font-size="10.6" fill="#222" font-family='"Liberation Sans", sans-serif' textLength="57" lengthAdjust="spacingAndGlyphs">dI/dV(nA/V)</text>
<rect x="441.2" y="284.5" width="159.2" height="163.7" fill="none" stroke="#555" stroke-width="1"/>
<line x1="441.2" x2="600.4" y1="439.90" y2="439.90" stroke="#777" stroke-width="1"/>
<line x1="438.2" x2="441.2" y1="439.90" y2="439.90" stroke="#555" stroke-width="1"/>
<text x="435.7" y="442.79999999999995" font-size="10" font-weight="normal" text-anchor="end" fill="#222" font-family='"Liberation Sans", sans-serif' >0</text>
<line x1="438.2" x2="441.2" y1="414.01" y2="414.01" stroke="#555" stroke-width="1"/>
<text x="435.7" y="416.90999999999997" font-size="10" font-weight="normal" text-anchor="end" fill="#222" font-family='"Liberation Sans", sans-serif' >3</text>
<line x1="438.2" x2="441.2" y1="388.12" y2="388.12" stroke="#555" stroke-width="1"/>
<text x="435.7" y="391.02" font-size="10" font-weight="normal" text-anchor="end" fill="#222" font-family='"Liberation Sans", sans-serif' >6</text>
<line x1="438.2" x2="441.2" y1="362.23" y2="362.23" stroke="#555" stroke-width="1"/>
<text x="435.7" y="365.12999999999994" font-size="10" font-weight="normal" text-anchor="end" fill="#222" font-family='"Liberation Sans", sans-serif' >9</text>
<line x1="438.2" x2="441.2" y1="336.34" y2="336.34" stroke="#555" stroke-width="1"/>
<text x="435.7" y="339.23999999999995" font-size="10" font-weight="normal" text-anchor="end" fill="#222" font-family='"Liberation Sans", sans-serif' >12</text>
<line x1="438.2" x2="441.2" y1="310.45" y2="310.45" stroke="#555" stroke-width="1"/>
<text x="435.7" y="313.3499999999999" font-size="10" font-weight="normal" text-anchor="end" fill="#222" font-family='"Liberation Sans", sans-serif' >15</text>
<line x1="438.2" x2="441.2" y1="284.56" y2="284.56" stroke="#555" stroke-width="1"/>
<text x="435.7" y="287.4599999999999" font-size="10" font-weight="normal" text-anchor="end" fill="#222" font-family='"Liberation Sans", sans-serif' >18</text>
<line x1="439.7" x2="441.2" y1="448.53" y2="448.53" stroke="#555" stroke-width="1"/>
<line x1="439.7" x2="441.2" y1="426.95" y2="426.95" stroke="#555" stroke-width="1"/>
<line x1="439.7" x2="441.2" y1="401.06" y2="401.06" stroke="#555" stroke-width="1"/>
<line x1="439.7" x2="441.2" y1="375.17" y2="375.17" stroke="#555" stroke-width="1"/>
<line x1="439.7" x2="441.2" y1="349.28" y2="349.28" stroke="#555" stroke-width="1"/>
<line x1="439.7" x2="441.2" y1="323.39" y2="323.39" stroke="#555" stroke-width="1"/>
<line x1="439.7" x2="441.2" y1="297.50" y2="297.50" stroke="#555" stroke-width="1"/>
<line x1="457.60" x2="457.60" y1="448.2" y2="451.5" stroke="#555" stroke-width="1"/>
<text x="457.3" y="461.2" font-size="10" font-weight="normal" text-anchor="middle" fill="#222" font-family='"Liberation Sans", sans-serif' >-2</text>
<line x1="489.40" x2="489.40" y1="448.2" y2="451.5" stroke="#555" stroke-width="1"/>
<text x="489.1" y="461.2" font-size="10" font-weight="normal" text-anchor="middle" fill="#222" font-family='"Liberation Sans", sans-serif' >-1</text>
<line x1="521.20" x2="521.20" y1="448.2" y2="451.5" stroke="#555" stroke-width="1"/>
<text x="521.2" y="461.2" font-size="10" font-weight="normal" text-anchor="middle" fill="#222" font-family='"Liberation Sans", sans-serif' >0</text>
<line x1="553.00" x2="553.00" y1="448.2" y2="451.5" stroke="#555" stroke-width="1"/>
<text x="553.0" y="461.2" font-size="10" font-weight="normal" text-anchor="middle" fill="#222" font-family='"Liberation Sans", sans-serif' >1</text>
<line x1="584.80" x2="584.80" y1="448.2" y2="451.5" stroke="#555" stroke-width="1"/>
<text x="584.8000000000001" y="461.2" font-size="10" font-weight="normal" text-anchor="middle" fill="#222" font-family='"Liberation Sans", sans-serif' >2</text>
<line x1="441.70" x2="441.70" y1="448.2" y2="449.8" stroke="#555" stroke-width="1"/>
<line x1="473.50" x2="473.50" y1="448.2" y2="449.8" stroke="#555" stroke-width="1"/>
<line x1="505.30" x2="505.30" y1="448.2" y2="449.8" stroke="#555" stroke-width="1"/>
<line x1="537.10" x2="537.10" y1="448.2" y2="449.8" stroke="#555" stroke-width="1"/>
<line x1="568.90" x2="568.90" y1="448.2" y2="449.8" stroke="#555" stroke-width="1"/>
<line x1="600.70" x2="600.70" y1="448.2" y2="449.8" stroke="#555" stroke-width="1"/>
<path d="M457.60 320.81V348.42M456.00 320.81h3.2M456.00 348.42h3.2" stroke="#666" stroke-width="0.8" fill="none"/>
<path d="M464.29 340.65V351.01M462.69 340.65h3.2M462.69 351.01h3.2" stroke="#666" stroke-width="0.8" fill="none"/>
<path d="M470.99 363.09V368.27M469.39 363.09h3.2M469.39 368.27h3.2" stroke="#666" stroke-width="0.8" fill="none"/>
<path d="M477.68 386.39V391.57M476.08 386.39h3.2M476.08 391.57h3.2" stroke="#666" stroke-width="0.8" fill="none"/>
<path d="M484.38 407.97V413.15M482.78 407.97h3.2M482.78 413.15h3.2" stroke="#666" stroke-width="0.8" fill="none"/>
<path d="M491.07 424.80V429.98M489.47 424.80h3.2M489.47 429.98h3.2" stroke="#666" stroke-width="0.8" fill="none"/>
<path d="M497.77 430.41V435.58M496.17 430.41h3.2M496.17 435.58h3.2" stroke="#666" stroke-width="0.8" fill="none"/>
<path d="M504.46 433.43V436.88M502.86 433.43h3.2M502.86 436.88h3.2" stroke="#666" stroke-width="0.8" fill="none"/>
<path d="M511.16 434.89V438.35M509.56 434.89h3.2M509.56 438.35h3.2" stroke="#666" stroke-width="0.8" fill="none"/>
<path d="M517.85 436.88V438.61M516.25 436.88h3.2M516.25 438.61h3.2" stroke="#666" stroke-width="0.8" fill="none"/>
<path d="M524.55 435.93V437.66M522.95 435.93h3.2M522.95 437.66h3.2" stroke="#666" stroke-width="0.8" fill="none"/>
<path d="M531.24 432.13V433.86M529.64 432.13h3.2M529.64 433.86h3.2" stroke="#666" stroke-width="0.8" fill="none"/>
<path d="M537.94 423.50V426.95M536.34 423.50h3.2M536.34 426.95h3.2" stroke="#666" stroke-width="0.8" fill="none"/>
<path d="M544.63 411.42V416.60M543.03 411.42h3.2M543.03 416.60h3.2" stroke="#666" stroke-width="0.8" fill="none"/>
<path d="M551.33 397.61V402.79M549.73 397.61h3.2M549.73 402.79h3.2" stroke="#666" stroke-width="0.8" fill="none"/>
<path d="M558.02 377.76V388.12M556.42 377.76h3.2M556.42 388.12h3.2" stroke="#666" stroke-width="0.8" fill="none"/>
<path d="M564.72 352.31V366.98M563.12 352.31h3.2M563.12 366.98h3.2" stroke="#666" stroke-width="0.8" fill="none"/>
<path d="M571.41 329.87V351.44M569.81 329.87h3.2M569.81 351.44h3.2" stroke="#666" stroke-width="0.8" fill="none"/>
<path d="M578.11 310.45V332.89M576.51 310.45h3.2M576.51 332.89h3.2" stroke="#666" stroke-width="0.8" fill="none"/>
<path d="M584.80 282.40V340.22M583.20 282.40h3.2M583.20 340.22h3.2" stroke="#666" stroke-width="0.8" fill="none"/>
<path d="M457.60 334.61 L458.12 335.42 L458.80 336.43 L459.62 337.62 L460.53 338.98 L461.49 340.50 L462.46 342.16 L463.41 343.94 L464.29 345.83 L465.13 347.88 L465.97 350.11 L466.81 352.49 L467.64 355.00 L468.48 357.61 L469.32 360.27 L470.15 362.98 L470.99 365.68 L471.83 368.44 L472.66 371.30 L473.50 374.24 L474.34 377.22 L475.17 380.22 L476.01 383.20 L476.85 386.13 L477.68 388.98 L478.52 391.79 L479.36 394.61 L480.19 397.41 L481.03 400.18 L481.87 402.89 L482.71 405.54 L483.54 408.10 L484.38 410.56 L485.22 412.97 L486.05 415.36 L486.89 417.71 L487.73 419.97 L488.56 422.11 L489.40 424.08 L490.24 425.85 L491.07 427.39 L491.91 428.65 L492.75 429.66 L493.58 430.46 L494.42 431.11 L495.26 431.64 L496.09 432.10 L496.93 432.54 L497.77 433.00 L498.61 433.44 L499.44 433.79 L500.28 434.09 L501.12 434.33 L501.95 434.55 L502.79 434.74 L503.63 434.94 L504.46 435.15 L505.30 435.37 L506.14 435.58 L506.97 435.77 L507.81 435.95 L508.65 436.13 L509.48 436.29 L510.32 436.46 L511.16 436.62 L511.99 436.79 L512.83 436.97 L513.67 437.16 L514.51 437.33 L515.34 437.49 L516.18 437.62 L517.02 437.70 L517.85 437.74 L518.69 437.74 L519.53 437.72 L520.36 437.66 L521.20 437.58 L522.04 437.45 L522.87 437.28 L523.71 437.06 L524.55 436.79 L525.38 436.48 L526.22 436.14 L527.06 435.75 L527.89 435.32 L528.73 434.84 L529.57 434.29 L530.41 433.68 L531.24 433.00 L532.08 432.24 L532.92 431.41 L533.75 430.53 L534.59 429.58 L535.43 428.57 L536.26 427.51 L537.10 426.39 L537.94 425.23 L538.77 424.01 L539.61 422.73 L540.45 421.39 L541.28 420.00 L542.12 418.56 L542.96 417.08 L543.79 415.56 L544.63 414.01 L545.47 412.43 L546.31 410.82 L547.14 409.17 L547.98 407.48 L548.82 405.75 L549.65 403.96 L550.49 402.11 L551.33 400.20 L552.16 398.25 L553.00 396.27 L553.84 394.25 L554.67 392.17 L555.51 390.01 L556.35 387.76 L557.18 385.41 L558.02 382.94 L558.86 380.29 L559.69 377.44 L560.53 374.46 L561.37 371.40 L562.21 368.33 L563.04 365.30 L563.88 362.39 L564.72 359.64 L565.55 357.06 L566.39 354.59 L567.23 352.21 L568.06 349.88 L568.90 347.59 L569.74 345.30 L570.57 343.00 L571.41 340.65 L572.25 338.22 L573.08 335.71 L573.92 333.16 L574.76 330.62 L575.59 328.16 L576.43 325.81 L577.27 323.63 L578.11 321.67 L578.99 319.89 L579.94 318.23 L580.91 316.70 L581.87 315.30 L582.78 314.06 L583.60 312.97 L584.28 312.05 L584.80 311.31" stroke="#111" stroke-width="1.3" fill="none" stroke-linejoin="round" stroke-linecap="round"/>
<text x="485" y="473.3" font-size="10.6" font-weight="normal" text-anchor="start" fill="#222" font-family='"Liberation Sans", sans-serif' textLength="71.4" lengthAdjust="spacingAndGlyphs" >Sample bias(V)</text>
<text transform="translate(420.5,364) rotate(-90)" x="0" y="0" text-anchor="middle" font-size="10.6" fill="#222" font-family='"Liberation Sans", sans-serif' textLength="57" lengthAdjust="spacingAndGlyphs">dI/dV(nA/V)</text>
<rect x="291.3" y="289.2" width="64.5" height="65.10000000000002" fill="#fff" stroke="#666" stroke-width="0.7"/>
<line x1="291.3" x2="355.8" y1="314.90" y2="314.90" stroke="#777" stroke-width="0.7"/>
<line x1="324.00" x2="324.00" y1="289.2" y2="354.3" stroke="#777" stroke-width="0.7"/>
<line x1="290.0" x2="291.3" y1="289.13" y2="289.13" stroke="#666" stroke-width="0.5"/>
<text x="289.5" y="290.73" font-size="4.6" font-weight="normal" text-anchor="end" fill="#555" font-family='"Liberation Sans", sans-serif' >15</text>
<line x1="290.0" x2="291.3" y1="297.72" y2="297.72" stroke="#666" stroke-width="0.5"/>
<text x="289.5" y="299.32" font-size="4.6" font-weight="normal" text-anchor="end" fill="#555" font-family='"Liberation Sans", sans-serif' >10</text>
<line x1="290.0" x2="291.3" y1="306.31" y2="306.31" stroke="#666" stroke-width="0.5"/>
<text x="289.5" y="307.91" font-size="4.6" font-weight="normal" text-anchor="end" fill="#555" font-family='"Liberation Sans", sans-serif' >5</text>
<line x1="290.0" x2="291.3" y1="314.90" y2="314.90" stroke="#666" stroke-width="0.5"/>
<text x="289.5" y="316.5" font-size="4.6" font-weight="normal" text-anchor="end" fill="#555" font-family='"Liberation Sans", sans-serif' >0</text>
<line x1="290.0" x2="291.3" y1="323.49" y2="323.49" stroke="#666" stroke-width="0.5"/>
<text x="289.5" y="325.09" font-size="4.6" font-weight="normal" text-anchor="end" fill="#555" font-family='"Liberation Sans", sans-serif' >-5</text>
<line x1="290.0" x2="291.3" y1="332.08" y2="332.08" stroke="#666" stroke-width="0.5"/>
<text x="289.5" y="333.68" font-size="4.6" font-weight="normal" text-anchor="end" fill="#555" font-family='"Liberation Sans", sans-serif' >-10</text>
<line x1="290.0" x2="291.3" y1="340.67" y2="340.67" stroke="#666" stroke-width="0.5"/>
<text x="289.5" y="342.27" font-size="4.6" font-weight="normal" text-anchor="end" fill="#555" font-family='"Liberation Sans", sans-serif' >-15</text>
<line x1="290.0" x2="291.3" y1="349.26" y2="349.26" stroke="#666" stroke-width="0.5"/>
<text x="289.5" y="350.86" font-size="4.6" font-weight="normal" text-anchor="end" fill="#555" font-family='"Liberation Sans", sans-serif' >-20</text>
<line x1="298.50" x2="298.50" y1="354.3" y2="355.6" stroke="#666" stroke-width="0.5"/>
<text x="298.5" y="360.2" font-size="4.6" font-weight="normal" text-anchor="middle" fill="#555" font-family='"Liberation Sans", sans-serif' >-2</text>
<line x1="311.25" x2="311.25" y1="354.3" y2="355.6" stroke="#666" stroke-width="0.5"/>
<text x="311.25" y="360.2" font-size="4.6" font-weight="normal" text-anchor="middle" fill="#555" font-family='"Liberation Sans", sans-serif' >-1</text>
<line x1="324.00" x2="324.00" y1="354.3" y2="355.6" stroke="#666" stroke-width="0.5"/>
<text x="324.0" y="360.2" font-size="4.6" font-weight="normal" text-anchor="middle" fill="#555" font-family='"Liberation Sans", sans-serif' >0</text>
<line x1="336.75" x2="336.75" y1="354.3" y2="355.6" stroke="#666" stroke-width="0.5"/>
<text x="336.75" y="360.2" font-size="4.6" font-weight="normal" text-anchor="middle" fill="#555" font-family='"Liberation Sans", sans-serif' >1</text>
<line x1="349.50" x2="349.50" y1="354.3" y2="355.6" stroke="#666" stroke-width="0.5"/>
<text x="349.5" y="360.2" font-size="4.6" font-weight="normal" text-anchor="middle" fill="#555" font-family='"Liberation Sans", sans-serif' >2</text>
<line x1="292.12" x2="292.12" y1="354.3" y2="355.1" stroke="#666" stroke-width="0.5"/>
<line x1="304.88" x2="304.88" y1="354.3" y2="355.1" stroke="#666" stroke-width="0.5"/>
<line x1="317.62" x2="317.62" y1="354.3" y2="355.1" stroke="#666" stroke-width="0.5"/>
<line x1="330.38" x2="330.38" y1="354.3" y2="355.1" stroke="#666" stroke-width="0.5"/>
<line x1="343.12" x2="343.12" y1="354.3" y2="355.1" stroke="#666" stroke-width="0.5"/>
<path d="M297.86 346.68 L298.21 345.90 L298.66 344.85 L299.21 343.60 L299.81 342.22 L300.46 340.77 L301.10 339.32 L301.74 337.95 L302.32 336.72 L302.88 335.60 L303.44 334.52 L304.00 333.46 L304.56 332.43 L305.11 331.43 L305.67 330.43 L306.23 329.45 L306.79 328.47 L307.35 327.49 L307.92 326.50 L308.49 325.51 L309.06 324.54 L309.62 323.60 L310.18 322.71 L310.72 321.86 L311.25 321.08 L311.76 320.37 L312.25 319.69 L312.73 319.06 L313.20 318.48 L313.67 317.94 L314.13 317.45 L314.60 317.01 L315.07 316.62 L315.54 316.29 L316.00 316.03 L316.45 315.83 L316.91 315.67 L317.37 315.55 L317.85 315.44 L318.36 315.34 L318.90 315.24 L319.48 315.15 L320.11 315.08 L320.76 315.04 L321.43 315.00 L322.10 314.98 L322.76 314.96 L323.40 314.93 L324.00 314.90 L324.57 314.87 L325.10 314.85 L325.62 314.83 L326.13 314.81 L326.63 314.79 L327.14 314.75 L327.66 314.71 L328.21 314.64 L328.77 314.56 L329.36 314.47 L329.95 314.36 L330.55 314.25 L331.15 314.13 L331.75 313.99 L332.34 313.85 L332.93 313.70 L333.49 313.55 L334.05 313.41 L334.60 313.26 L335.15 313.10 L335.70 312.92 L336.25 312.71 L336.81 312.46 L337.39 312.15 L337.98 311.79 L338.60 311.38 L339.22 310.94 L339.85 310.45 L340.47 309.95 L341.08 309.43 L341.67 308.90 L342.23 308.37 L342.76 307.84 L343.28 307.30 L343.77 306.74 L344.25 306.17 L344.71 305.59 L345.17 304.99 L345.62 304.37 L346.06 303.73 L346.50 303.05 L346.95 302.30 L347.40 301.51 L347.83 300.72 L348.25 299.95 L348.62 299.23 L348.96 298.59 L349.25 298.06 L349.47 297.65 L349.65 297.32 L349.79 297.05 L349.89 296.85 L349.97 296.69 L350.03 296.56 L350.08 296.45 L350.14 296.35" stroke="#111" stroke-width="1.3" fill="none" stroke-linejoin="round" stroke-linecap="round"/>
<line x1="297.86" x2="297.86" y1="349.78" y2="343.25" stroke="#555" stroke-width="0.5"/>
<line x1="350.14" x2="350.14" y1="291.71" y2="298.58" stroke="#555" stroke-width="0.5"/>
<text x="308.6" y="366.8" font-size="5.2" font-weight="normal" text-anchor="start" fill="#555" font-family='"Liberation Sans", sans-serif' textLength="29.4" lengthAdjust="spacingAndGlyphs" >Sample bias(V)</text>
<text transform="translate(280.2,317.7) rotate(-90)" x="0" y="0" text-anchor="middle" font-size="5" fill="#555" font-family='"Liberation Sans", sans-serif'>I<tspan font-size="3.4" dy="1">T</tspan><tspan dy="-1">(nA)</tspan></text>
<rect x="484.5" y="288.4" width="67.89999999999998" height="70.5" fill="#fff" stroke="#666" stroke-width="0.7"/>
<line x1="484.5" x2="552.4" y1="330.90" y2="330.90" stroke="#777" stroke-width="0.7"/>
<line x1="518.60" x2="518.60" y1="288.4" y2="358.9" stroke="#777" stroke-width="0.7"/>
<line x1="483.2" x2="484.5" y1="288.30" y2="288.30" stroke="#666" stroke-width="0.5"/>
<text x="482.7" y="289.9" font-size="4.6" font-weight="normal" text-anchor="end" fill="#555" font-family='"Liberation Sans", sans-serif' >15</text>
<line x1="483.2" x2="484.5" y1="302.50" y2="302.50" stroke="#666" stroke-width="0.5"/>
<text x="482.7" y="304.1" font-size="4.6" font-weight="normal" text-anchor="end" fill="#555" font-family='"Liberation Sans", sans-serif' >10</text>
<line x1="483.2" x2="484.5" y1="316.70" y2="316.70" stroke="#666" stroke-width="0.5"/>
<text x="482.7" y="318.3" font-size="4.6" font-weight="normal" text-anchor="end" fill="#555" font-family='"Liberation Sans", sans-serif' >5</text>
<line x1="483.2" x2="484.5" y1="330.90" y2="330.90" stroke="#666" stroke-width="0.5"/>
<text x="482.7" y="332.5" font-size="4.6" font-weight="normal" text-anchor="end" fill="#555" font-family='"Liberation Sans", sans-serif' >0</text>
<line x1="483.2" x2="484.5" y1="345.10" y2="345.10" stroke="#666" stroke-width="0.5"/>
<text x="482.7" y="346.7" font-size="4.6" font-weight="normal" text-anchor="end" fill="#555" font-family='"Liberation Sans", sans-serif' >-5</text>
<line x1="483.2" x2="484.5" y1="359.30" y2="359.30" stroke="#666" stroke-width="0.5"/>
<text x="482.7" y="360.9" font-size="4.6" font-weight="normal" text-anchor="end" fill="#555" font-family='"Liberation Sans", sans-serif' >-10</text>
<line x1="488.60" x2="488.60" y1="358.9" y2="360.2" stroke="#666" stroke-width="0.5"/>
<text x="488.6" y="364.5" font-size="4.6" font-weight="normal" text-anchor="middle" fill="#555" font-family='"Liberation Sans", sans-serif' >-2</text>
<line x1="503.60" x2="503.60" y1="358.9" y2="360.2" stroke="#666" stroke-width="0.5"/>
<text x="503.6" y="364.5" font-size="4.6" font-weight="normal" text-anchor="middle" fill="#555" font-family='"Liberation Sans", sans-serif' >-1</text>
<line x1="518.60" x2="518.60" y1="358.9" y2="360.2" stroke="#666" stroke-width="0.5"/>
<text x="518.6" y="364.5" font-size="4.6" font-weight="normal" text-anchor="middle" fill="#555" font-family='"Liberation Sans", sans-serif' >0</text>
<line x1="533.60" x2="533.60" y1="358.9" y2="360.2" stroke="#666" stroke-width="0.5"/>
<text x="533.6" y="364.5" font-size="4.6" font-weight="normal" text-anchor="middle" fill="#555" font-family='"Liberation Sans", sans-serif' >1</text>
<line x1="548.60" x2="548.60" y1="358.9" y2="360.2" stroke="#666" stroke-width="0.5"/>
<text x="548.6" y="364.5" font-size="4.6" font-weight="normal" text-anchor="middle" fill="#555" font-family='"Liberation Sans", sans-serif' >2</text>
<line x1="496.10" x2="496.10" y1="358.9" y2="359.7" stroke="#666" stroke-width="0.5"/>
<line x1="511.10" x2="511.10" y1="358.9" y2="359.7" stroke="#666" stroke-width="0.5"/>
<line x1="526.10" x2="526.10" y1="358.9" y2="359.7" stroke="#666" stroke-width="0.5"/>
<line x1="541.10" x2="541.10" y1="358.9" y2="359.7" stroke="#666" stroke-width="0.5"/>
<path d="M488.90 353.34 L489.16 352.83 L489.51 352.16 L489.93 351.35 L490.39 350.46 L490.88 349.52 L491.39 348.57 L491.88 347.65 L492.35 346.80 L492.80 346.01 L493.25 345.21 L493.70 344.42 L494.16 343.63 L494.63 342.84 L495.10 342.07 L495.59 341.31 L496.10 340.56 L496.63 339.80 L497.17 339.04 L497.73 338.27 L498.30 337.52 L498.88 336.79 L499.46 336.10 L500.03 335.46 L500.60 334.88 L501.15 334.35 L501.69 333.87 L502.22 333.42 L502.76 333.02 L503.30 332.66 L503.87 332.32 L504.47 332.02 L505.10 331.75 L505.77 331.52 L506.46 331.34 L507.17 331.19 L507.91 331.08 L508.67 330.99 L509.46 330.91 L510.27 330.83 L511.10 330.76 L511.97 330.69 L512.87 330.65 L513.80 330.62 L514.76 330.61 L515.72 330.59 L516.69 330.57 L517.65 330.53 L518.60 330.47 L519.56 330.40 L520.55 330.33 L521.54 330.25 L522.54 330.16 L523.51 330.06 L524.44 329.94 L525.31 329.79 L526.10 329.62 L526.81 329.44 L527.44 329.24 L528.01 329.04 L528.54 328.81 L529.04 328.54 L529.55 328.24 L530.06 327.90 L530.60 327.49 L531.16 327.04 L531.71 326.55 L532.25 326.02 L532.80 325.44 L533.36 324.82 L533.92 324.15 L534.50 323.44 L535.10 322.66 L535.73 321.84 L536.38 320.96 L537.05 320.04 L537.73 319.06 L538.40 318.04 L539.07 316.97 L539.72 315.86 L540.35 314.71 L540.95 313.48 L541.55 312.16 L542.13 310.77 L542.69 309.35 L543.25 307.93 L543.80 306.52 L544.33 305.18 L544.85 303.92 L545.38 302.69 L545.93 301.43 L546.48 300.18 L547.01 298.99 L547.50 297.87 L547.94 296.88 L548.32 296.04 L548.60 295.40" stroke="#111" stroke-width="1.3" fill="none" stroke-linejoin="round" stroke-linecap="round"/>
<line x1="488.90" x2="488.90" y1="355.89" y2="350.21" stroke="#555" stroke-width="0.5"/>
<line x1="548.60" x2="548.60" y1="291.14" y2="296.82" stroke="#555" stroke-width="0.5"/>
<text x="501.7" y="371.2" font-size="5.2" font-weight="normal" text-anchor="start" fill="#555" font-family='"Liberation Sans", sans-serif' textLength="31" lengthAdjust="spacingAndGlyphs" >Sample Bias(V)</text>
<text transform="translate(476.6,321.6) rotate(-90)" x="0" y="0" text-anchor="middle" font-size="5" fill="#555" font-family='"Liberation Sans", sans-serif'>I<tspan font-size="3.4" dy="1">T</tspan><tspan dy="-1">(nA)</tspan></text>
<text x="500.2" y="310.3" font-size="6.6" font-weight="bold" text-anchor="start" fill="#222" font-family='"Liberation Sans", sans-serif' textLength="33.4" lengthAdjust="spacingAndGlyphs" >1.03±0.02V</text>
<path d="M506.8 315 V327 M522.4 315 V327 M506.8 319.7 H522.4" stroke="#333" stroke-width="0.6" fill="none"/>
<path d="M505.6 324.5 L506.8 328.2 L508 324.5Z M521.2 324.5 L522.4 328.2 L523.6 324.5Z" fill="#222"/>
<line x1="479.2" y1="399" x2="497.1" y2="443.3" stroke="#D41E1E" stroke-width="1.5"/>
<line x1="545" y1="415.2" x2="526.7" y2="442.2" stroke="#D41E1E" stroke-width="1.5"/>
<text x="494.3" y="396.9" font-size="9.2" font-weight="normal" text-anchor="start" fill="#333" font-family='"Liberation Sans", sans-serif' textLength="42.1" lengthAdjust="spacingAndGlyphs" >1.03±0.02V</text>
<path d="M496 401.2 V430 M528.2 401.2 V430 M497 405.5 H527.2" stroke="#333" stroke-width="0.7" fill="none"/>
<path d="M494.6 427 L496 431.6 L497.4 427Z M526.8 427 L528.2 431.6 L529.6 427Z M496.3 405.5 L500 404.1 L500 406.9Z M527.9 405.5 L524.2 404.1 L524.2 406.9Z" fill="#222"/>
<text x="454.7" y="424.5" font-size="8.8" font-weight="normal" text-anchor="start" fill="#333" font-family='"Liberation Sans", sans-serif' textLength="19.1" lengthAdjust="spacingAndGlyphs" >-0.8V</text>
<text x="551.5" y="427.1" font-size="8.8" font-weight="normal" text-anchor="start" fill="#333" font-family='"Liberation Sans", sans-serif' textLength="21.6" lengthAdjust="spacingAndGlyphs" >0.23V</text>
<line x1="474.8" y1="425" x2="487.6" y2="434" stroke="#444" stroke-width="0.6"/>
<path d="M490.2 435.9 L485.6 434.6 L487.6 431.8Z" fill="#222"/>
<line x1="550.4" y1="427.8" x2="536" y2="435.3" stroke="#444" stroke-width="0.6"/>
<path d="M533.2 436.8 L536.8 433.6 L537.9 436.6Z" fill="#222"/>
<text x="112.3" y="453.4" font-size="11.8" font-weight="normal" text-anchor="start" fill="#1a1a1a" font-family='"Liberation Sans", sans-serif' textLength="49.9" lengthAdjust="spacingAndGlyphs" >60x55 nm</text>
<text x="183.4" y="310.7" font-size="9.6" font-weight="normal" text-anchor="start" fill="#222" font-family='"Liberation Serif", serif' >Å</text>
<text x="182.3" y="323.70000000000005" font-size="8.8" font-weight="normal" text-anchor="start" fill="#222" font-family='"Liberation Serif", serif' textLength="15.6" lengthAdjust="spacingAndGlyphs" >12.0</text>
<text x="182.3" y="354.8" font-size="8.8" font-weight="normal" text-anchor="start" fill="#222" font-family='"Liberation Serif", serif' textLength="11.6" lengthAdjust="spacingAndGlyphs" >9.0</text>
<text x="182.3" y="387.1" font-size="8.8" font-weight="normal" text-anchor="start" fill="#222" font-family='"Liberation Serif", serif' textLength="11.6" lengthAdjust="spacingAndGlyphs" >6.0</text>
<text x="182.3" y="422.40000000000003" font-size="8.8" font-weight="normal" text-anchor="start" fill="#222" font-family='"Liberation Serif", serif' textLength="11.6" lengthAdjust="spacingAndGlyphs" >3.0</text>
<text x="182.3" y="454.8" font-size="8.8" font-weight="normal" text-anchor="start" fill="#222" font-family='"Liberation Serif", serif' textLength="11.6" lengthAdjust="spacingAndGlyphs" >0.0</text>

</svg></body></html>
